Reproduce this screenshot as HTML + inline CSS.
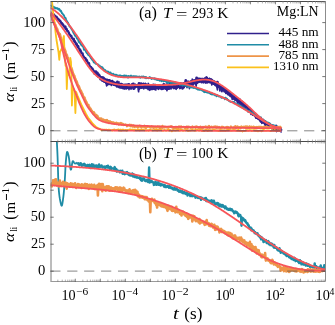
<!DOCTYPE html>
<html><head><meta charset="utf-8"><style>html,body{margin:0;padding:0;background:#fff;overflow:hidden}svg{display:block}</style></head>
<body><div style="will-change:transform;width:335px;height:325px"><svg width="335" height="325" viewBox="0 0 335 325" font-family='"Liberation Serif", serif' fill="#000">
<defs><clipPath id="cpT"><rect x="50.5" y="1.5" width="275.0" height="140.0"/></clipPath>
<clipPath id="cpB"><rect x="50.5" y="141.5" width="275.0" height="140.0"/></clipPath></defs>
<rect width="335" height="325" fill="#fff"/>
<path d="M51 16.13L51.4 13.8L51.8 15.27L52.2 14.76L52.6 14.8L53 14.9L53.4 13.96L53.8 14.86L54.2 14.72L54.6 17.24L55 16.03L55.4 16.12L55.8 16.54L56.2 16.72L56.6 16.91L57 17.63L57.4 18.47L57.8 18.49L58.2 19.5L58.6 19.28L59 19.79L59.4 20.98L59.8 20.85L60.2 20.75L60.6 21.45L61 22.36L61.4 23.63L61.8 23L62.2 23.55L62.6 24.74L63 24.28L63.4 25.13L63.8 26.3L64.2 26.68L64.6 26.96L65 27.82L65.4 26.48L65.8 29.11L66.2 28.59L66.6 28.76L67 30.37L67.4 31.16L67.8 31.09L68.2 31.31L68.6 32.48L69 33L69.4 34.37L69.8 34.58L70.2 34.87L70.6 35.99L71 35.87L71.4 36.09L71.8 37.54L72.2 38.15L72.6 38.33L73 38.64L73.4 39.82L73.8 38.92L74.2 41.33L74.6 41.85L75 41.28L75.4 42.86L75.8 42.91L76.2 44.51L76.6 43.56L77 44.82L77.4 46.38L77.8 47.26L78.2 46L78.6 47.58L79 48.68L79.4 48.77L79.8 50.67L80.2 49.71L80.6 51.25L81 51.1L81.4 53.17L81.8 52.99L82.2 53.44L82.6 53.31L83 55.93L83.4 56.03L83.8 56.68L84.2 57.54L84.6 57.72L85 57.77L85.4 58.3L85.8 58.92L86.2 60.82L86.6 59.76L87 60.88L87.4 61.65L87.8 62.57L88.2 63.37L88.6 62.87L89 63.16L89.4 64.76L89.8 66.06L90.2 66.36L90.6 66.63L91 66.87L91.4 67.83L91.8 68.04L92.2 69.3L92.6 68.76L93 69.92L93.4 70.27L93.8 71.25L94.2 71.52L94.6 73.73L95 73.44L95.4 73.88L95.8 71.58" fill="none" stroke="#30208c" stroke-width="2.3" stroke-linejoin="round" clip-path="url(#cpT)"/>
<path d="M95.4 73.88L95.8 71.58L96.2 73.29L96.6 73.46L97 74.75L97.4 72.82L97.8 76.03L98.2 76.3L98.6 74.61L99 75.2L99.4 75.67L99.8 76.72L100.2 77.56L100.6 79.15L101 77.37L101.4 78.55L101.8 78.24L102.2 80.05L102.6 79.33L103 80.2L103.4 78L103.8 79.12L104.2 78.7L104.6 81.32L105 80.66L105.4 79.85L105.8 79.89L106.2 81.1L106.6 80L107 79.92L107.4 81.68L107.8 84.12L108.2 81.22L108.6 81.03L109 80.47L109.4 80.43L109.8 82.8L110.2 83.34L110.6 82.47L111 83L111.4 82.88L111.8 83.03L112.2 81.16L112.6 82.57L113 83.38L113.4 82.42L113.8 82.9L114.2 82.61L114.6 83.3L115 84.83L115.4 83.42L115.8 83.82L116.2 85.08L116.6 84.97L117 86.33L117.4 81.87L117.8 85.5L118.2 83.97L118.6 84.8L119 85.72L119.4 86.09L119.8 86.11L120.2 85.12L120.6 86.94L121 84.73L121.4 84.97L121.8 86.16L122.2 84.6L122.6 87.91L123 86.6L123.4 88.04L123.8 85.45L124.2 85.08L124.6 85.78L125 86.51L125.4 84.96L125.8 86.15L126.2 85.7L126.6 87.69L127 84.98L127.4 87.05L127.8 85.05L128.2 84.69L128.6 85.01L129 84.45L129.4 86.08L129.8 87.15L130.2 86.13L130.6 86.69L131 87.92L131.4 86.29L131.8 86.21L132.2 85.66L132.6 84.07L133 86.92L133.4 83.91L133.8 86.81L134.2 86.01L134.6 87.39L135 85.96L135.4 85.05L135.8 86.48L136.2 85.38L136.6 85.84L137 86.11L137.4 85.9L137.8 85.83L138.2 85.06L138.6 85.84L139 83.5L139.4 85.88L139.8 84.63L140.2 87.41L140.6 87.59L141 83.72L141.4 86.24L141.8 85.91L142.2 84.81L142.6 86.7L143 85.51L143.4 83.94L143.8 85.74L144.2 85.89L144.6 86.19L145 84.59L145.4 86.81L145.8 86.96L146.2 84.7L146.6 85.29L147 85.99L147.4 85.42L147.8 88.2L148.2 86.36L148.6 84.91L149 85.19L149.4 86.08L149.8 88.91L150.2 85.95L150.6 86.33L151 86.81L151.4 86.16L151.8 88.95L152.2 85.59L152.6 87.14L153 86.45L153.4 87.02L153.8 84.88L154.2 88.43L154.6 86.17L155 86.38L155.4 85.23L155.8 85.49L156.2 87.06L156.6 87.58L157 87.32L157.4 87.88L157.8 87.3L158.2 86.49L158.6 87.47L159 87.2L159.4 86.38L159.8 87.38L160.2 88.06L160.6 86.81L161 86.1L161.4 87.39L161.8 88.81L162.2 86.28L162.6 86.42L163 86.37L163.4 88L163.8 84.32L164.2 86.97L164.6 87.95L165 85.54L165.4 88.3L165.8 87.15L166.2 85.84L166.6 86.74L167 84.65L167.4 85.8L167.8 88.66L168.2 85.38L168.6 88.66L169 86.33L169.4 87.61L169.8 86.45L170.2 83.69L170.6 85.68L171 86.57L171.4 84.94L171.8 84.68L172.2 86.71L172.6 85.47L173 84.19L173.4 85.37L173.8 87.19L174.2 85.56L174.6 87.22L175 87.89L175.4 86.06L175.8 84.63L176.2 84.38L176.6 85.87L177 86.91L177.4 86.13L177.8 86.42L178.2 85.18L178.6 86.02L179 85.04L179.4 85.15L179.8 83.94L180.2 83.53L180.6 84.75L181 83.91L181.4 83.99L181.8 85.86L182.2 84.83L182.6 88.35L183 85.87L183.4 83.89L183.8 85.48L184.2 84.87L184.6 83.51L185 85.54L185.4 83.18L185.8 80.32L186.2 84.83L186.6 83.02L187 85.43L187.4 82.75L187.8 81.99L188.2 85.15L188.6 81.88L189 83.3L189.4 84.67L189.8 82.95L190.2 82.6L190.6 82.7L191 83.46L191.4 81.37L191.8 82.96L192.2 82.8L192.6 84.79L193 81.47L193.4 80.67L193.8 82.53L194.2 81.06L194.6 81.78L195 81.48L195.4 82.62L195.8 80.33L196.2 80.91L196.6 77.86L197 79.75L197.4 82.57L197.8 79.82L198.2 79.71L198.6 79.01L199 81.08L199.4 80.52L199.8 78.81L200.2 80.96L200.6 80.41L201 80.95L201.4 79.23L201.8 82.01L202.2 80.38L202.6 79.72L203 79.21L203.4 79.5L203.8 80.77L204.2 79.43L204.6 80.98L205 80.39L205.4 81.27L205.8 80.65L206.2 79.64L206.6 77.53L207 80.09L207.4 80.74L207.8 80.11L208.2 80.66L208.6 79.6L209 79.82L209.4 79.31L209.8 82.04L210.2 80.82L210.6 80.23L211 79.45L211.4 80.92L211.8 82.86L212.2 81.94L212.6 80.81L213 83.37L213.4 83.56L213.8 83.26L214.2 83.25L214.6 83.86L215 83.41L215.4 83.92L215.8 82.49L216.2 85.22L216.6 84.13L217 86.33L217.4 82.26L217.8 85.48L218.2 86.07L218.6 84.96L219 86.11L219.4 86.73L219.8 86.86L220.2 86.01L220.6 86.75L221 88.29L221.4 88.88L221.8 87.99L222.2 88.31L222.6 88.78L223 89.99L223.4 88.19L223.8 88.27L224.2 90.11L224.6 89.22L225 90.12L225.4 91.08L225.8 91.75L226.2 90.48L226.6 92.64L227 90.35L227.4 92.96L227.8 91.14L228.2 91.74L228.6 93.93L229 93.19L229.4 93.11L229.8 93.76L230.2 94.95L230.6 94.74L231 95.07L231.4 96.42L231.8 95.02L232.2 95.57L232.6 95.83L233 97.75L233.4 97.88L233.8 98.47L234.2 97.52L234.6 97.72L235 98.97L235.4 98.11L235.8 99.56L236.2 99.76L236.6 98.75L237 99.63L237.4 99.9L237.8 101.9L238.2 102.98L238.6 100.83L239 101.24L239.4 99.47L239.8 102.03L240.2 102.14L240.6 101.49L241 103.47L241.4 101.67L241.8 103.2L242.2 103.83L242.6 102.9L243 105.1L243.4 105.59L243.8 103.74L244.2 104.04L244.6 106.15L245 105.92L245.4 105.21L245.8 106.37L246.2 106.88L246.6 107.19L247 108.4L247.4 108.36L247.8 109.94L248.2 109.95L248.6 109.7L249 110.42L249.4 111.01L249.8 110.84L250.2 109.52L250.6 111.73L251 111.42L251.4 113.15L251.8 112.2L252.2 112.95L252.6 113.13L253 114.66L253.4 113.71L253.8 113.68L254.2 114.54L254.6 114.24L255 115.12L255.4 115.33L255.8 115.92L256.2 117.69L256.6 116.04L257 116.76L257.4 116.91L257.8 118L258.2 116.75L258.6 117.5L259 118.4L259.4 119.22L259.8 119.05L260.2 118.98L260.6 118.99L261 120.47L261.4 121.57L261.8 120.92L262.2 121.1L262.6 121.61L263 120.73L263.4 121.55L263.8 121.86L264.2 122.61L264.6 122.6L265 121.87L265.4 124.12L265.8 124.88L266.2 123.52L266.6 124.34L267 124.5L267.4 125.19L267.8 123.56L268.2 126.38L268.6 124.89L269 126.56L269.4 125.81L269.8 125.64L270.2 126.07L270.6 127.14L271 125.89L271.4 126.49L271.8 126.59L272.2 125.77L272.6 128.42L273 128L273.4 127.67L273.8 128.8L274.2 127.22L274.6 128.09L275 129.69L275.4 129.21L275.8 126.73L276.2 125.95L276.6 127.92L277 129.72L277.4 128.57L277.8 128.87L278.2 129.61L278.6 128.48L279 129.43L279.4 129.95L279.8 129.73L280.2 129.72L280.6 128.95L281 129.86L281.4 129.13" fill="none" stroke="#30208c" stroke-width="2.8" stroke-linejoin="round" clip-path="url(#cpT)"/>
<path d="M100.2 77.07L100.6 77.47L101 78.1L101.4 79.86L101.8 78.81L102.2 81.18L102.6 79.13L103 79.17L103.4 79.32L103.8 81.39L104.2 82.27L104.6 80.67L105 80.55L105.4 80.21L105.8 83.34L106.2 83.66L106.6 85.86L107 81.6L107.4 84.9L107.8 81.61L108.2 81.92L108.6 83.86L109 84.39L109.4 84.45L109.8 82.66L110.2 82.58L110.6 84.48L111 84.3L111.4 85.46L111.8 84.18L112.2 83.05L112.6 83.91L113 84.14L113.4 85.14L113.8 84.04L114.2 84.63L114.6 84.69L115 84.51L115.4 85.46L115.8 84.43L116.2 84.89L116.6 84.38L117 85.91L117.4 86.04L117.8 86.46L118.2 84.56L118.6 87.49L119 86.81L119.4 84.9L119.8 87.91L120.2 85.91L120.6 87.87L121 85.77L121.4 86.17L121.8 85.45L122.2 88.3L122.6 85.86L123 86.64L123.4 85.53L123.8 85.95L124.2 87.14L124.6 89.04L125 85.76L125.4 88.79L125.8 86.61L126.2 86.75L126.6 88.92L127 86.61L127.4 86.99L127.8 88.15L128.2 87.69L128.6 86.34L129 89.72L129.4 86.3L129.8 87.9L130.2 87.09L130.6 86.37L131 89.24L131.4 86.21L131.8 87.33L132.2 86.61L132.6 87.15L133 88.48L133.4 89.28L133.8 88.49L134.2 88.13L134.6 88.99L135 86.43L135.4 86.09L135.8 87.09L136.2 86.45L136.6 87.02L137 86.43L137.4 86.36L137.8 86.15L138.2 89.62L138.6 91.81L139 87.58L139.4 89.21L139.8 86.55L140.2 87.44L140.6 86.57L141 86.77L141.4 86.2L141.8 88.3L142.2 87.46L142.6 87.83L143 87.42L143.4 86.56L143.8 88.85L144.2 87.44L144.6 87.88L145 87.85L145.4 87.54L145.8 88.11L146.2 86.94L146.6 87.89L147 86.19L147.4 88.28L147.8 88.15L148.2 89.64L148.6 86.56L149 89.29L149.4 87.22L149.8 90.32L150.2 86.36L150.6 89.19L151 89.05L151.4 86.45L151.8 88.21L152.2 87.49L152.6 89.37L153 86.58L153.4 88.33L153.8 89.14L154.2 87.58L154.6 89.51L155 89.23L155.4 87.44L155.8 90.06L156.2 86.59L156.6 86.48L157 87.9L157.4 87.48L157.8 87.4L158.2 89.19L158.6 89.34L159 86.55L159.4 88.14L159.8 87.93L160.2 87.31L160.6 88.37L161 87.93L161.4 88.91L161.8 88.38L162.2 86.55L162.6 87.6L163 89.29L163.4 87.56L163.8 86.79L164.2 86.97L164.6 88.13L165 86.71L165.4 87.03L165.8 89.21L166.2 87.57L166.6 89.04L167 90.71L167.4 86.67L167.8 88.74L168.2 86.79L168.6 88.14L169 87.36L169.4 89.03L169.8 87.84L170.2 86.57L170.6 87.68L171 88.99L171.4 86.67L171.8 87.5L172.2 87.82L172.6 87.36L173 87.39L173.4 87.32L173.8 88.59L174.2 86.18L174.6 87.55L175 88.02L175.4 88.03L175.8 88.79L176.2 89.43L176.6 87.53L177 87.08L177.4 88.07L177.8 86.04L178.2 87.22L178.6 87.11L179 87.49L179.4 85.63L179.8 88.66L180.2 85.83L180.6 88.3L181 87.32L181.4 86.99L181.8 87.42L182.2 87.79L182.6 85.86L183 86.29L183.4 85.57L183.8 86.54L184.2 87.59L184.6 84.42L185 86.32L185.4 84.52L185.8 85.77L186.2 85.27L186.6 84.84L187 87.67L187.4 85.29L187.8 83.49L188.2 84.29L188.6 84.38L189 85.87L189.4 88.67L189.8 83.99L190.2 84.67L190.6 86.03L191 82.83L191.4 84.12L191.8 84.34L192.2 83.18L192.6 83.47L193 82.88L193.4 81.82L193.8 81.94L194.2 81.85L194.6 81.78L195 83.95L195.4 84.62L195.8 84.16L196.2 86.1L196.6 81.3L197 83.35L197.4 82.01L197.8 81.4L198.2 81.1L198.6 80.82L199 82.16L199.4 81.66L199.8 82.02L200.2 80.25L200.6 81.64L201 81.5L201.4 80.49L201.8 80.33L202.2 80.05L202.6 81.8L203 82.11L203.4 82.88L203.8 80.37L204.2 80.06L204.6 80.98L205 82.27L205.4 83.1L205.8 79.98L206.2 80.8L206.6 80.98L207 83.12L207.4 81.67L207.8 81.33L208.2 82.44L208.6 80.93L209 81.14L209.4 81.16L209.8 81.58L210.2 81.48L210.6 82.03L211 80.98L211.4 82.65L211.8 85L212.2 81.67L212.6 82.47L213 82.9L213.4 83.32L213.8 84.02L214.2 82.94L214.6 84.24L215 85.31L215.4 83.6L215.8 84.03L216.2 83.73L216.6 84.83L217 87.54L217.4 89.9L217.8 86.1L218.2 85.72L218.6 86.84L219 87.17L219.4 86.45L219.8 91.05L220.2 88.3L220.6 88.26L221 88.67L221.4 89.22L221.8 91.71L222.2 90.33L222.6 89.49L223 90.32L223.4 89.42L223.8 89.73L224.2 91.75L224.6 90.74L225 91.18L225.4 91.93L225.8 93.36L226.2 91.64L226.6 92.53L227 92.81L227.4 93.38L227.8 94.65L228.2 94.84L228.6 93.86L229 93.82L229.4 94.94L229.8 95.89L230.2 95.52L230.6 95.53L231 95.22L231.4 96.04L231.8 96.85L232.2 99.37L232.6 96.73L233 97.99L233.4 98.29L233.8 97.68L234.2 98.33L234.6 97.96L235 100.23L235.4 100.2L235.8 99.36L236.2 99.76L236.6 99.78L237 99.87L237.4 100.9L237.8 100.46L238.2 101.08L238.6 102.52L239 103.63L239.4 103.97L239.8 102.45L240.2 104.08L240.6 104.18L241 104.18L241.4 105.29L241.8 104.55L242.2 104.39L242.6 105.95L243 105.87L243.4 104.92L243.8 106.88L244.2 105.8L244.6 106.91L245 106.43L245.4 107.62L245.8 106.94L246.2 107.91L246.6 108.52L247 109.06L247.4 110.17L247.8 109.37L248.2 110.38L248.6 111.16L249 111.03L249.4 111.94L249.8 111.18L250.2 111.35L250.6 110.99L251 114.35L251.4 111.74L251.8 112.52L252.2 113.8L252.6 113.03L253 114.87L253.4 113.64L253.8 115.39L254.2 115.69L254.6 115.21L255 115.52L255.4 115.83L255.8 117.41L256.2 116.67L256.6 117.33L257 117.72L257.4 118.06L257.8 118.02L258.2 119.22L258.6 118.22L259 118.59L259.4 120.03L259.8 120.13L260.2 121.49L260.6 121.49L261 121.86L261.4 120.89L261.8 123.45L262.2 122.75L262.6 121.29L263 122.83L263.4 122.46L263.8 122.22L264.2 123.04L264.6 124.17L265 123.75L265.4 125.83L265.8 124.5L266.2 125.52L266.6 125.35L267 125.16L267.4 124.59L267.8 126.31L268.2 126.17L268.6 126.32L269 126.84L269.4 127.39L269.8 127.27L270.2 127.41L270.6 126.94L271 128.16L271.4 127.1L271.8 127.68L272.2 127.32L272.6 129.32L273 128.18L273.4 129.6L273.8 128.07L274.2 129.34L274.6 128.33L275 128.74L275.4 128.63L275.8 130.35L276.2 130.06L276.6 131.56L277 130.12L277.4 130.81L277.8 130.93L278.2 129.52L278.6 129.92L279 129.45L279.4 130.94L279.8 130.06L280.2 130.07L280.6 130.13L281 131.93L281.4 131.4" fill="none" stroke="#30208c" stroke-width="1.6" stroke-linejoin="round" clip-path="url(#cpT)"/>
<path d="M100.2 76.15L100.6 76.73L101 77.38L101.4 77.67L101.8 77.33L102.2 77.62L102.6 76.76L103 77.3L103.4 77.41L103.8 78.36L104.2 78.43L104.6 78.31L105 79.18L105.4 79.47L105.8 80.08L106.2 79.37L106.6 80.08L107 80.01L107.4 80.73L107.8 79.89L108.2 80.85L108.6 79.92L109 81.13L109.4 81.87L109.8 79.82L110.2 81.2L110.6 81.4L111 81.11L111.4 82.41L111.8 82.25L112.2 82.36L112.6 81.99L113 83.22L113.4 82.64L113.8 82.23L114.2 82.57L114.6 82.74L115 82.52L115.4 83.02L115.8 83.83L116.2 82.32L116.6 83.2L117 83.39L117.4 84.07L117.8 82.72L118.2 84.51L118.6 84.13L119 81.59L119.4 84.79L119.8 84.78L120.2 83.77L120.6 84.26L121 83.25L121.4 85.01L121.8 83.82L122.2 84.18L122.6 85.27L123 84.42L123.4 84.58L123.8 84.59L124.2 84.98L124.6 85.12L125 84.97L125.4 84.9L125.8 85.21L126.2 85.55L126.6 85.12L127 84.25L127.4 85.57L127.8 85.19L128.2 84.57L128.6 85.84L129 85.68L129.4 85.72L129.8 85.05L130.2 85.69L130.6 85.45L131 85.61L131.4 84.72L131.8 85.59L132.2 83.46L132.6 85.04L133 85.37L133.4 85.73L133.8 84.7L134.2 85.92L134.6 85.51L135 84.87L135.4 84.4L135.8 85.05L136.2 85.84L136.6 85.11L137 85.5L137.4 85.69L137.8 85.69L138.2 85.2L138.6 85.82L139 86.04L139.4 85.84L139.8 84.9L140.2 85.43L140.6 85.61L141 84.55L141.4 86.01L141.8 84.39L142.2 86.03L142.6 84.73L143 85.33L143.4 84.88L143.8 85.6L144.2 84.8L144.6 85.67L145 85.94L145.4 83.14L145.8 85.81L146.2 85.79L146.6 85.17L147 85.95L147.4 85.97L147.8 85.67L148.2 83.22L148.6 84.45L149 84.83L149.4 84.83L149.8 85.53L150.2 86.16L150.6 84.66L151 85.96L151.4 84.82L151.8 85.36L152.2 84.41L152.6 85.23L153 85.81L153.4 86.15L153.8 85.94L154.2 85.22L154.6 86.25L155 85.52L155.4 85.99L155.8 84.41L156.2 86.36L156.6 86.04L157 86.27L157.4 86.15L157.8 85.95L158.2 86.42L158.6 86.26L159 85.53L159.4 85.46L159.8 86.05L160.2 85.65L160.6 85.44L161 86.48L161.4 85.52L161.8 85.8L162.2 85.82L162.6 84.71L163 85.59L163.4 85.86L163.8 84.56L164.2 85.16L164.6 84.97L165 85.6L165.4 84.34L165.8 85.61L166.2 85.18L166.6 85.26L167 84.19L167.4 86.17L167.8 85.32L168.2 85.95L168.6 85.93L169 85.99L169.4 84.7L169.8 85.78L170.2 85.14L170.6 84.49L171 85.94L171.4 84.94L171.8 85.89L172.2 86.05L172.6 84.89L173 86.02L173.4 84.81L173.8 85.57L174.2 85.43L174.6 85.06L175 85.24L175.4 84.69L175.8 85.83L176.2 84.52L176.6 85.38L177 85.85L177.4 84.47L177.8 85.23L178.2 85.42L178.6 83.38L179 83.54L179.4 85.14L179.8 84.42L180.2 83.44L180.6 85.28L181 84L181.4 84.56L181.8 83.14L182.2 83.82L182.6 83.93L183 84.23L183.4 82.89L183.8 83.91L184.2 83.96L184.6 83.69L185 84.13L185.4 82.94L185.8 83.92L186.2 81.51L186.6 83.65L187 83.11L187.4 82.75L187.8 83.25L188.2 83.25L188.6 82.96L189 81.97L189.4 82.31L189.8 81.82L190.2 81.36L190.6 82.25L191 81.67L191.4 80.95L191.8 81.28L192.2 78.96L192.6 81.56L193 80.92L193.4 80.75L193.8 81.06L194.2 79.65L194.6 80.51L195 81.07L195.4 81.05L195.8 81.1L196.2 80.03L196.6 79.68L197 80.8L197.4 79.03L197.8 79.85L198.2 80.32L198.6 78.38L199 80.24L199.4 79L199.8 79.75L200.2 79.88L200.6 80.01L201 79.81L201.4 79.63L201.8 79.89L202.2 79.08L202.6 78.41L203 79.66L203.4 79L203.8 78.67L204.2 78.53L204.6 77.94L205 77.81L205.4 78.15L205.8 79.61L206.2 79.27L206.6 78.69L207 78.2L207.4 79.43L207.8 78.28L208.2 78.96L208.6 79.41L209 79.89L209.4 78.17L209.8 78.35L210.2 80.37L210.6 79.56L211 79.82L211.4 80.48L211.8 80.81L212.2 79.86L212.6 81.01L213 81.17L213.4 81.84L213.8 80.84L214.2 82.28L214.6 80.94L215 82.75L215.4 82.5L215.8 82.42L216.2 82.84L216.6 82.53L217 82.52L217.4 82.71L217.8 83.31L218.2 84.56L218.6 84.73L219 84.83L219.4 85.01L219.8 85.45L220.2 85.51L220.6 85.35L221 86.58L221.4 86.69L221.8 86.61L222.2 87.92L222.6 87.57L223 87.28L223.4 89.2L223.8 89.53L224.2 89.59L224.6 89.84L225 89.73L225.4 90.87L225.8 90.68L226.2 91.3L226.6 90.65L227 91.88L227.4 91.89L227.8 91.46L228.2 91.95L228.6 93.1L229 92.93L229.4 92.11L229.8 94.19L230.2 93.11L230.6 93.18L231 92.65L231.4 94.68L231.8 95.38L232.2 95.03L232.6 96.14L233 96.59L233.4 96.46L233.8 97.22L234.2 96.06L234.6 96.96L235 97.34L235.4 97.64L235.8 97.28L236.2 98.9L236.6 98.67L237 99.66L237.4 99.26L237.8 99.72L238.2 100.22L238.6 100.1L239 99.2L239.4 100.87L239.8 100.55L240.2 102.13L240.6 102.36L241 101.35L241.4 102.55L241.8 102.11L242.2 103.06L242.6 102.11L243 102.2L243.4 103.92L243.8 103.3L244.2 104.89L244.6 105.18L245 105.86L245.4 105.63L245.8 105.66L246.2 106.35L246.6 106.66L247 107.4L247.4 107.19L247.8 107.71L248.2 108.4L248.6 108.61L249 107.95L249.4 109.47L249.8 110.07L250.2 110.26L250.6 109.7L251 111.22L251.4 111.59L251.8 110.13L252.2 111.98L252.6 112.83L253 112.58L253.4 113.2L253.8 113.03L254.2 113.82L254.6 112.9L255 114.3L255.4 114.51L255.8 115.01L256.2 115.46L256.6 116.19L257 114.75L257.4 117.04L257.8 116.77L258.2 117.59L258.6 117.82L259 116.37L259.4 117.14L259.8 117.75L260.2 118.12L260.6 119.37L261 120.03L261.4 119.81L261.8 119.82L262.2 119.43L262.6 120.38L263 120.93L263.4 119.5L263.8 120.8L264.2 122.3L264.6 121.25L265 122.06L265.4 122.88L265.8 123.39L266.2 123.56L266.6 122.26L267 122.37L267.4 123.37L267.8 124.46L268.2 124.28L268.6 124.15L269 125.04L269.4 125.26L269.8 125.56L270.2 125.45L270.6 126.18L271 125.27L271.4 125.99L271.8 126.91L272.2 126.48L272.6 126.24L273 127.42L273.4 126.31L273.8 127.36L274.2 126.86L274.6 127.42L275 127.89L275.4 128.19L275.8 128.38L276.2 126.7L276.6 127.47L277 128.64L277.4 128.07L277.8 128.54L278.2 128.87L278.6 128.39L279 128.92L279.4 128.93L279.8 128.93L280.2 128.8L280.6 129.07L281 129.17L281.4 129.35" fill="none" stroke="#30208c" stroke-width="1.4" stroke-linejoin="round" clip-path="url(#cpT)"/>
<path d="M50.5 6.25L51 5.87L51.5 5.5L52 6.35L52.5 6.46L53 6.58L53.5 6.91L54 8.07L54.5 7.34L55 7.68L55.5 7.6L56 8.55L56.5 8.19L57 8.12L57.5 8.16L58 9.19L58.5 9.54L59 8.75L59.5 9.41L60 10.3L60.5 11.2L61 10.87L61.5 12.02L62 13.32L62.5 13.47L63 14.27L63.5 15.01L64 15.45L64.5 16.85L65 17.77L65.5 17.87L66 19.41L66.5 20.75L67 21.24L67.5 22.47L68 22.71L68.5 24.49L69 24.45L69.5 26.59L70 26.48L70.5 27.17L71 27.92L71.5 28.97L72 29.77L72.5 30.53L73 31.54L73.5 32.85L74 33.81L74.5 34.13L75 35.72L75.5 35.59L76 36.47L76.5 37.14L77 38.64L77.5 38.4L78 39.2L78.5 41.14L79 42.07L79.5 42.65L80 42.11L80.5 43.53L81 44.65L81.5 45.06L82 45.04L82.5 46.36L83 46.49L83.5 47.45L84 49.71L84.5 49.79L85 49.57L85.5 50.29L86 51.91L86.5 52.16L87 53.42L87.5 53.59L88 54.51L88.5 55.33L89 55.37L89.5 55.58L90 56.51L90.5 57.33L91 58.14L91.5 58.79L92 59.36L92.5 60.19L93 60.11L93.5 61.69L94 62.51L94.5 62.3L95 62.74L95.5 63.64L96 63.78L96.5 63.97L97 64.19L97.5 64.31L98 64.48L98.5 65.65L99 66.22L99.5 65.53L100 66.28L100.5 66.71L101 66.7L101.5 67.01L102 67.62L102.5 67.34L103 68.62L103.5 68.91L104 70.39L104.5 70.23L105 70.02L105.5 70.51L106 71.62L106.5 71.9L107 71.57L107.5 71.72L108 71.41L108.5 72.19L109 72.52L109.5 72.52L110 73.86L110.5 72.47L111 73.47L111.5 73.92L112 74.13L112.5 74.88L113 73.67L113.5 74.13L114 74.67L114.5 74.83L115 74.74L115.5 74.7L116 75.66L116.5 74.82L117 75.14L117.5 76.15L118 76.38L118.5 76.08L119 75.38L119.5 75.46L120 75.51L120.5 75.46L121 75.84L121.5 76.66L122 76.23L122.5 75.83L123 75.86L123.5 75.72L124 76.82L124.5 75.39L125 76.44L125.5 75.69L126 75.88L126.5 75.7L127 76.81L127.5 76.35L128 77.63L128.5 75.93L129 75.91L129.5 76.66L130 76.65L130.5 76.27L131 75.49L131.5 77.05L132 76.65L132.5 76.57L133 76.12L133.5 76.68L134 76.14L134.5 76.41L135 76.31L135.5 77L136 76.26L136.5 76.36L137 77.05L137.5 76.7L138 76.63L138.5 76.58L139 77.17L139.5 76.5L140 77.05L140.5 77.81L141 77.13L141.5 76.66L142 76.53L142.5 77.19L143 76.64L143.5 76.54L144 76.98L144.5 76.89L145 77.85L145.5 76.87L146 78.3L146.5 77.33L147 77.79L147.5 78.12L148 77.99L148.5 78.3L149 77.61L149.5 77.11L150 78.12L150.5 77.54L151 78.12L151.5 78.9L152 78.47L152.5 78.38L153 78.23L153.5 78.7L154 78.85L154.5 78.31L155 79.25L155.5 78.74L156 79.42L156.5 79.22L157 79.97L157.5 80.01L158 79.74L158.5 79.79L159 80.15L159.5 80.68L160 80.65L160.5 80.33L161 80.49L161.5 81.14L162 79.78L162.5 80.85L163 80.29L163.5 81.4L164 80.66L164.5 80.93L165 80.59L165.5 81.18L166 81.63L166.5 82.13L167 80.9L167.5 81.38L168 83.44L168.5 82.21L169 81.88L169.5 82.23L170 80.9L170.5 82.92L171 82.36L171.5 81.74L172 83.01L172.5 82.3L173 82.22L173.5 83.02L174 83.07L174.5 82.79L175 83.07L175.5 82.6L176 82.66L176.5 83.82L177 84.12L177.5 83.83L178 83.91L178.5 83.68L179 83.91L179.5 83.66L180 84.98L180.5 84.05L181 84.61L181.5 84.54L182 84.03L182.5 85.65L183 84.73L183.5 84.67L184 85.19L184.5 84.86L185 85.4L185.5 85.08L186 85.89L186.5 85.79L187 85.28L187.5 86.49L188 86.24L188.5 85.79L189 86.58L189.5 86.75L190 87.53L190.5 86.44L191 87.35L191.5 87.07L192 87.53L192.5 87.27L193 87.51L193.5 87.9L194 87.29L194.5 87.02L195 88.12L195.5 88.07L196 88.46L196.5 88.86L197 88.63L197.5 89.42L198 89.02L198.5 89.25L199 89.73L199.5 89.78L200 89.64L200.5 89.9L201 89.66L201.5 89.89L202 90.38L202.5 90.87L203 90.48L203.5 91.22L204 91.89L204.5 92.16L205 91.38L205.5 92.02L206 91.99L206.5 92.25L207 92.46L207.5 92.5L208 92.82L208.5 92.72L209 92.7L209.5 93.12L210 93.42L210.5 93.91L211 93.68L211.5 94.02L212 94.49L212.5 93.59L213 94.06L213.5 94.59L214 94.53L214.5 94.23L215 95.31L215.5 95.01L216 94.76L216.5 96.25L217 94.99L217.5 95.75L218 95.63L218.5 96.17L219 96.56L219.5 96.12L220 96.64L220.5 96.81L221 96.61L221.5 97.79L222 97.53L222.5 97.52L223 97.55L223.5 97.9L224 98.32L224.5 98.25L225 99.23L225.5 97.74L226 98.15L226.5 99.22L227 98.73L227.5 99.76L228 99.72L228.5 100.52L229 100.67L229.5 101.31L230 101.38L230.5 101.76L231 101.68L231.5 102.16L232 102.15L232.5 101.91L233 101.86L233.5 102.13L234 103.14L234.5 102.1L235 103.51L235.5 103.35L236 104.28L236.5 104.29L237 104.13L237.5 104.73L238 103.96L238.5 105.38L239 105.73L239.5 104.96L240 106.44L240.5 106.27L241 106.67L241.5 106.23L242 107.42L242.5 107.68L243 107.69L243.5 107.53L244 108.59L244.5 109.09L245 108.99L245.5 109.54L246 109.1L246.5 109.72L247 110.1L247.5 110.28L248 111.77L248.5 110.98L249 110.82L249.5 111.74L250 111.16L250.5 112.13L251 112.61L251.5 112.36L252 112.74L252.5 112.77L253 113.57L253.5 113.51L254 114.91L254.5 114.73L255 114.65L255.5 114.42L256 116.29L256.5 116.27L257 116.21L257.5 116.4L258 116.7L258.5 116.72L259 118.09L259.5 117.65L260 117.22L260.5 117.88L261 117.33L261.5 119.1L262 119.45L262.5 120.22L263 120.67L263.5 119.68L264 120.54L264.5 121.09L265 121.3L265.5 121.01L266 121.9L266.5 122.05L267 122.73L267.5 122.39L268 122.58L268.5 122.74L269 123.07L269.5 123.17L270 123.63L270.5 124.29L271 124.55L271.5 125.21L272 125.38L272.5 125.43L273 124.89L273.5 125.91L274 126.43L274.5 125.55L275 125.87L275.5 126.17L276 126.34L276.5 126.89L277 126.8L277.5 127.59L278 127.05L278.5 127.72L279 127.72L279.5 127.66L280 128.71L280.5 128.4L281 128.76L281.5 128.47" fill="none" stroke="#1f8ca6" stroke-width="1.9" stroke-linejoin="round" clip-path="url(#cpT)"/>
<path d="M50.5 13.88L51 15.25L51.5 16.23L52 16.69L52.5 19.19L53 20.28L53.5 21.14L54 22.27L54.5 23.29L55 24.41L55.5 24.91L56 26.5L56.5 27.8L57 28.43L57.5 29.35L58 31.87L58.5 32.36L59 33.05L59.5 34.12L60 34.24L60.5 36.21L61 38.19L61.5 40.37L62 40.13L62.5 42.26L63 45.03L63.5 45.87L64 47.2L64.5 49.04L65 49.83L65.5 51.22L66 53.1L66.5 54.6L67 55.08L67.5 57.82L68 57.63L68.5 59.59L69 62.91L69.5 62.55L70 64.55L70.5 65.12L71 66.84L71.5 68.01L72 69.51L72.5 71.36L73 73.2L73.5 74.05L74 75.66L74.5 75.88L75 78.11L75.5 78.91L76 80.54L76.5 80.86L77 82.14L77.5 84.11L78 84.86L78.5 85.72L79 86.41L79.5 87.78L80 89.13L80.5 90.3L81 90.71L81.5 91.88L82 93.33L82.5 93.65L83 95.78L83.5 96.41L84 97.45L84.5 97.39L85 98.86L85.5 100.17L86 101.38L86.5 102.05L87 103.66L87.5 104.37L88 104.97L88.5 104.86L89 107.32L89.5 107.21L90 108.37L90.5 108.43L91 109.45L91.5 110.48L92 110.91L92.5 111.92L93 111.98L93.5 113.67L94 112.31L94.5 113.53L95 114.83L95.5 114.74L96 115.17L96.5 115.02L97 117L97.5 115.92L98 117.57L98.5 117.82L99 118.52L99.5 119.12L100 118.31L100.5 118.51L101 118.99L101.5 118.51L102 119.98L102.5 119.57L103 120.03L103.5 119.55L104 120.29L104.5 120.13L105 120.55L105.5 120.2L106 121.42L106.5 120.73L107 119.93L107.5 121.67L108 121.33L108.5 121.17L109 123L109.5 121.84L110 121.32L110.5 121.81L111 122.42L111.5 122.24L112 123.09L112.5 123.12L113 122.31L113.5 122.84L114 123.25L114.5 122.83L115 122.91L115.5 123.69L116 123.57L116.5 122.74L117 123.25L117.5 123.4L118 123.63L118.5 123.42L119 124.52L119.5 123.45L120 123.47L120.5 124.19L121 123.03L121.5 123.72L122 124.62L122.5 123.71L123 124.02L123.5 125.06L124 124.81L124.5 124.68L125 124.84L125.5 124.45L126 125.02L126.5 124.84L127 126.26L127.5 125.36L128 124.99L128.5 125.2L129 125.33L129.5 124.68L130 125.03L130.5 126.27L131 124.87L131.5 125.35L132 126.22L132.5 126.53L133 125.33L133.5 126.64L134 125.79L134.5 126.86L135 126.35L135.5 126.02L136 126.58L136.5 126.56L137 125.96L137.5 127.48L138 126.29L138.5 127.1L139 126.35L139.5 125.74L140 126.15L140.5 126.67L141 127.07L141.5 127.62L142 126.79L142.5 126.62L143 126.16L143.5 126.76L144 126.95L144.5 125.7L145 127.47L145.5 127.4L146 127.99L146.5 126.41L147 126.9L147.5 126.9L148 126.24L148.5 126.49L149 126.44L149.5 127.21L150 127.18L150.5 127.65L151 126.79L151.5 126.31L152 127.24L152.5 127.22L153 127.39L153.5 127.69L154 126.79L154.5 127.49L155 126.6L155.5 127.2L156 127.48L156.5 127.09L157 127.26L157.5 126.47L158 126.85L158.5 127.26L159 126.59L159.5 126.77L160 128.42L160.5 127.34L161 126.8L161.5 126.7L162 127.91L162.5 125.82L163 127.04L163.5 127.52L164 126.93L164.5 127.47L165 126.69L165.5 127.21L166 127.24L166.5 127.23L167 127.3L167.5 127.24L168 127.79L168.5 127.1L169 126.94L169.5 127.09L170 127.08L170.5 126.48L171 126.28L171.5 126.56L172 127.39L172.5 126.91L173 127.04L173.5 128.68L174 127.81L174.5 127.15L175 126.94L175.5 127.94L176 126.87L176.5 127.88L177 127.55L177.5 127.95L178 126.9L178.5 127.71L179 126.36L179.5 127.18L180 127.8L180.5 127.61L181 126.35L181.5 127.61L182 127.49L182.5 127.23L183 126.9L183.5 127.13L184 126.98L184.5 127.74L185 127.5L185.5 127.8L186 127.61L186.5 126.63L187 127.34L187.5 128.34L188 126.71L188.5 127.41L189 126.88L189.5 126.82L190 127.37L190.5 127.73L191 127.65L191.5 127.5L192 127.75L192.5 126.45L193 127.68L193.5 127.47L194 127.18L194.5 127.27L195 126.84L195.5 127.85L196 126.89L196.5 126.53L197 127.27L197.5 126.98L198 127.24L198.5 128.03L199 127.21L199.5 127.34L200 128.41L200.5 126.58L201 127.46L201.5 127.87L202 128.04L202.5 128.41L203 126.96L203.5 127.59L204 127.24L204.5 127.06L205 126.93L205.5 126.56L206 127.46L206.5 127.67L207 126.76L207.5 127.68L208 127.02L208.5 126.79L209 125.98L209.5 127.85L210 127.66L210.5 127.15L211 127.11L211.5 126.65L212 127.57L212.5 127.27L213 127.58L213.5 127.4L214 126.6L214.5 126.53L215 127.52L215.5 126.46L216 127.45L216.5 127.77L217 126.67L217.5 127.66L218 127.35L218.5 127.6L219 127.01L219.5 127.32L220 127.55L220.5 128.26L221 127.71L221.5 127.59L222 126.69L222.5 127.51L223 127L223.5 127.31L224 127.49L224.5 127.84L225 127.65L225.5 127.45L226 127.33L226.5 128.04L227 126.91L227.5 127.38L228 128.05L228.5 127.26L229 127.78L229.5 127.81L230 128.36L230.5 127.93L231 126.53L231.5 127.36L232 127.51L232.5 127.78L233 127.55L233.5 128.31L234 127.91L234.5 126.76L235 127.03L235.5 126.31L236 128.22L236.5 127.28L237 127.27L237.5 126.54L238 127.11L238.5 127.55L239 127.12L239.5 127.12L240 127L240.5 128.31L241 127.03L241.5 126.57L242 127.04L242.5 127.12L243 127.25L243.5 127.17L244 126.72L244.5 127.19L245 127.48L245.5 126.57L246 128.28L246.5 128.14L247 126.36L247.5 127.09L248 127.79L248.5 127.96L249 128.18L249.5 126.34L250 126.71L250.5 127.01L251 127.55L251.5 126.73L252 127.49L252.5 127.5L253 127.64L253.5 126.62L254 127.38L254.5 127.31L255 127.07L255.5 127.94L256 127.13L256.5 128.02L257 126.98L257.5 128.15L258 128.12L258.5 126.87L259 127.46L259.5 127.45L260 126.79L260.5 127.69L261 127.59L261.5 126.85L262 127.34L262.5 127.75L263 127.21L263.5 126.93L264 128.13L264.5 126.8L265 127.47L265.5 127.87L266 127.7L266.5 126.37L267 127.13L267.5 127.23L268 127.19L268.5 127.62L269 127.58L269.5 127.37L270 127.44L270.5 127.82L271 127.94L271.5 126.34L272 128.41L272.5 127.02L273 127.7L273.5 126.48L274 127.04L274.5 126.67L275 127.85L275.5 127.75L276 127.3L276.5 127.21L277 127.5L277.5 126.82L278 126.99L278.5 126.91L279 127.71L279.5 127.3L280 126.64L280.5 127.46L281 127.55L281.5 128" fill="none" stroke="#ee9448" stroke-width="2.3" stroke-linejoin="round" clip-path="url(#cpT)"/>
<path d="M51.6 -3L53.3 14L54.5 22L55.5 32L56.5 40L57.5 46L58.5 52L59.3 59.8L60 52L61.5 49L62.5 50L63.3 38L63.9 36L64.5 52L65.2 62L65.6 66L66.2 64L66.8 89L67.5 72L68.5 75L69.2 74L70.3 58L71 62L71.5 80L71.9 105.5L72.6 87L73.5 89L74.5 91L75.4 113L76.2 92L77.5 95.5L79 99L80.5 102.5L82 106L84 110L86 114L88 117.5L90 120L93 124L96 127L100 129L100.5 129.17L101.2 129.63L101.9 130.32L102.6 129.56L103.3 129.62L104 129.99L104.7 129.68L105.4 129.9L106.1 129.75L106.8 129.68L107.5 130.29L108.2 129.87L108.9 129.66L109.6 129.93L110.3 130L111 130.17L111.7 130.4L112.4 130.7L113.1 129.63L113.8 129.97L114.5 129.4L115.2 130.11L115.9 130.2L116.6 129.77L117.3 129.66L118 129.62L118.7 129.42L119.4 130.16L120.1 130.6L120.8 129.52L121.5 130.51L122.2 129.89L122.9 129.44L123.6 130.14L124.3 130.22L125 130.09L125.7 129.86L126.4 130.55L127.1 129.86L127.8 130.19L128.5 130.2L129.2 129.65L129.9 129.32L130.6 129.36L131.3 129.84L132 130.11L132.7 129.36L133.4 129.73L134.1 130.54L134.8 129.36L135.5 130.16L136.2 130.13L136.9 130.28L137.6 129.48L138.3 130.13L139 129.52L139.7 130.49L140.4 129.71L141.1 130.16L141.8 129.74L142.5 130.08L143.2 129.49L143.9 130.13L144.6 130.25L145.3 130.04L146 130.62L146.7 130.18L147.4 130.33L148.1 130.23L148.8 130.72L149.5 129.83L150.2 129.97L150.9 129.99L151.6 130.29L152.3 130.17L153 130.38L153.7 130.19L154.4 129.9L155.1 130.07L155.8 130.25L156.5 129.29L157.2 130.6L157.9 129.9L158.6 129.98L159.3 130.21L160 130.03L160.7 129.61L161.4 130.04L162.1 130.62L162.8 130.51L163.5 130.58L164.2 129.95L164.9 130.07L165.6 130.53L166.3 130.68L167 130.17L167.7 129.82L168.4 129.48L169.1 130.68L169.8 129.63L170.5 130.33L171.2 130.5L171.9 131.35L172.6 130.26L173.3 130.16L174 130.37L174.7 130.39L175.4 130.69L176.1 130.46L176.8 129.94L177.5 129.46L178.2 130.33L178.9 129.98L179.6 130.74L180.3 129.76L181 130.31L181.7 129.98L182.4 129.93L183.1 130.85L183.8 130.31L184.5 130.19L185.2 130.53L185.9 129.98L186.6 130.13L187.3 130.04L188 130.99L188.7 130.39L189.4 130.5L190.1 130.68L190.8 130.22L191.5 130.23L192.2 129.7L192.9 130.47L193.6 130.39L194.3 130.15L195 130.74L195.7 129.66L196.4 130.46L197.1 129.81L197.8 129.9L198.5 130.24L199.2 130.8L199.9 129.89L200.6 129.96L201.3 129.89L202 131.06L202.7 130.52L203.4 130.48L204.1 131.09L204.8 130.43L205.5 129.58L206.2 130.16L206.9 129.92L207.6 131.09L208.3 129.84L209 130.47L209.7 130.17L210.4 130.2L211.1 130.37L211.8 130.32L212.5 130.12L213.2 129.93L213.9 130.14L214.6 130L215.3 130.05L216 130.43L216.7 130.33L217.4 130.56L218.1 130.31L218.8 131.09L219.5 130.13L220.2 130.04L220.9 130.78L221.6 130.15L222.3 130.45L223 130.77L223.7 130.38L224.4 130.29L225.1 130.77L225.8 130.54L226.5 130.23L227.2 129.99L227.9 130.29L228.6 129.83L229.3 130.12L230 130.04L230.7 130.55L231.4 130.72L232.1 130.21L232.8 130.28L233.5 130.05L234.2 129.95L234.9 130.29L235.6 130.66L236.3 130.63L237 130.67L237.7 130.36L238.4 129.47L239.1 130.8L239.8 130.95L240.5 130.8L241.2 130.8L241.9 130.88L242.6 131.46L243.3 130.6L244 131.05L244.7 130.78L245.4 130.74L246.1 130.45L246.8 130.37L247.5 130.09L248.2 130.72L248.9 130.39L249.6 130.07L250.3 130.23L251 130.08L251.7 131.1L252.4 130.43L253.1 130.56L253.8 130.08L254.5 130.15L255.2 130.91L255.9 130.44L256.6 130.61L257.3 131.2L258 131.29L258.7 130.79L259.4 130.72L260.1 130.63L260.8 130.44L261.5 131.28L262.2 130.11L262.9 130.52L263.6 129.85L264.3 130.09L265 130.7L265.7 130.72L266.4 130.68L267.1 130.44L267.8 130.31L268.5 130.37L269.2 130.43L269.9 130.97L270.6 131.1L271.3 130.74L272 130.38L272.7 130.24L273.4 130.69L274.1 130.5L274.8 129.92L275.5 131.08L276.2 130.58L276.9 130.47L277.6 130.27L278.3 130.28L279 130.92L279.7 130.25L280.4 130.63L281.1 130.83" fill="none" stroke="#fbc11c" stroke-width="1.8" stroke-linejoin="round" clip-path="url(#cpT)"/>
<path d="M50.3 11.55L50.8 12.21L51.3 12.87L51.8 13.54L52.3 14.2L52.8 14.87L53.3 15.53L53.8 16.2L54.3 16.87L54.8 17.53L55.3 18.2L55.8 18.87L56.3 19.54L56.8 20.22L57.3 20.89L57.8 21.57L58.3 22.24L58.8 22.92L59.3 23.6L59.8 24.28L60.3 24.97L60.8 25.65L61.3 26.34L61.8 27.03L62.3 27.72L62.8 28.42L63.3 29.12L63.8 29.82L64.3 30.52L64.8 31.23L65.3 31.93L65.8 32.65L66.3 33.36L66.8 34.08L67.3 34.8L67.8 35.53L68.3 36.26L68.8 36.99L69.3 37.72L69.8 38.46L70.3 39.21L70.8 39.95L71.3 40.71L71.8 41.46L72.3 42.22L72.8 42.98L73.3 43.74L73.8 44.5L74.3 45.27L74.8 46.04L75.3 46.81L75.8 47.58L76.3 48.35L76.8 49.12L77.3 49.9L77.8 50.67L78.3 51.44L78.8 52.22L79.3 52.99L79.8 53.76L80.3 54.53L80.8 55.3L81.3 56.06L81.8 56.83L82.3 57.59L82.8 58.35L83.3 59.1L83.8 59.86L84.3 60.6L84.8 61.35L85.3 62.08L85.8 62.81L86.3 63.54L86.8 64.25L87.3 64.96L87.8 65.66L88.3 66.35L88.8 67.03L89.3 67.69L89.8 68.35L90.3 68.99L90.8 69.62L91.3 70.24L91.8 70.84L92.3 71.43L92.8 72L93.3 72.56L93.8 73.1L94.3 73.62L94.8 74.12L95.3 74.61L95.8 75.08L96.3 75.52L96.8 75.96L97.3 76.37L97.8 76.77L98.3 77.15L98.8 77.51L99.3 77.86L99.8 78.2L100.3 78.52L100.8 78.83L101.3 79.13L101.8 79.41L102.3 79.68L102.8 79.94L103.3 80.19L103.8 80.43L104.3 80.66L104.8 80.88L105.3 81.09L105.8 81.3L106.3 81.49L106.8 81.68L107.3 81.87L107.8 82.04L108.3 82.21L108.8 82.38L109.3 82.54L109.8 82.69L110.3 82.84L110.8 82.98L111.3 83.12L111.8 83.25L112.3 83.37L112.8 83.5L113.3 83.61L113.8 83.72L114.3 83.83L114.8 83.93L115.3 84.03L115.8 84.12L116.3 84.21L116.8 84.29L117.3 84.37L117.8 84.45L118.3 84.52L118.8 84.59L119.3 84.65L119.8 84.71L120.3 84.77L120.8 84.82L121.3 84.87L121.8 84.91L122.3 84.96L122.8 85L123.3 85.03L123.8 85.06L124.3 85.09L124.8 85.12L125.3 85.15L125.8 85.17L126.3 85.19L126.8 85.2L127.3 85.22L127.8 85.23L128.3 85.24L128.8 85.25L129.3 85.25L129.8 85.26L130.3 85.26L130.8 85.26L131.3 85.26L131.8 85.25L132.3 85.25L132.8 85.24L133.3 85.24L133.8 85.23L134.3 85.22L134.8 85.21L135.3 85.2L135.8 85.19L136.3 85.17L136.8 85.16L137.3 85.15L137.8 85.13L138.3 85.12L138.8 85.1L139.3 85.09L139.8 85.08L140.3 85.06L140.8 85.05L141.3 85.03L141.8 85.02L142.3 85L142.8 84.99L143.3 84.98L143.8 84.97L144.3 84.96L144.8 84.95L145.3 84.94L145.8 84.93L146.3 84.92L146.8 84.92L147.3 84.91L147.8 84.91L148.3 84.91L148.8 84.91L149.3 84.91L149.8 84.91L150.3 84.91L150.8 84.92L151.3 84.92L151.8 84.92L152.3 84.93L152.8 84.93L153.3 84.94L153.8 84.94L154.3 84.95L154.8 84.96L155.3 84.96L155.8 84.97L156.3 84.98L156.8 84.98L157.3 84.99L157.8 85L158.3 85L158.8 85.01L159.3 85.01L159.8 85.02L160.3 85.02L160.8 85.03L161.3 85.03L161.8 85.03L162.3 85.03L162.8 85.03L163.3 85.03L163.8 85.03L164.3 85.03L164.8 85.02L165.3 85.02L165.8 85.01L166.3 85L166.8 84.99L167.3 84.98L167.8 84.97L168.3 84.95L168.8 84.94L169.3 84.92L169.8 84.9L170.3 84.88L170.8 84.85L171.3 84.83L171.8 84.8L172.3 84.77L172.8 84.73L173.3 84.7L173.8 84.66L174.3 84.62L174.8 84.58L175.3 84.53L175.8 84.48L176.3 84.43L176.8 84.38L177.3 84.32L177.8 84.26L178.3 84.2L178.8 84.13L179.3 84.06L179.8 83.99L180.3 83.91L180.8 83.83L181.3 83.75L181.8 83.66L182.3 83.57L182.8 83.47L183.3 83.37L183.8 83.27L184.3 83.17L184.8 83.06L185.3 82.95L185.8 82.84L186.3 82.73L186.8 82.61L187.3 82.5L187.8 82.38L188.3 82.26L188.8 82.14L189.3 82.02L189.8 81.9L190.3 81.78L190.8 81.67L191.3 81.55L191.8 81.43L192.3 81.32L192.8 81.2L193.3 81.09L193.8 80.98L194.3 80.87L194.8 80.77L195.3 80.66L195.8 80.57L196.3 80.47L196.8 80.38L197.3 80.29L197.8 80.21L198.3 80.13L198.8 80.05L199.3 79.98L199.8 79.92L200.3 79.86L200.8 79.81L201.3 79.76L201.8 79.72L202.3 79.69L202.8 79.66L203.3 79.64L203.8 79.63L204.3 79.62L204.8 79.63L205.3 79.64L205.8 79.66L206.3 79.69L206.8 79.73L207.3 79.77L207.8 79.83L208.3 79.9L208.8 79.97L209.3 80.06L209.8 80.16L210.3 80.26L210.8 80.38L211.3 80.51L211.8 80.66L212.3 80.81L212.8 80.97L213.3 81.15L213.8 81.33L214.3 81.53L214.8 81.74L215.3 81.95L215.8 82.18L216.3 82.41L216.8 82.66L217.3 82.91L217.8 83.17L218.3 83.44L218.8 83.72L219.3 84L219.8 84.29L220.3 84.59L220.8 84.9L221.3 85.21L221.8 85.53L222.3 85.86L222.8 86.19L223.3 86.53L223.8 86.87L224.3 87.22L224.8 87.57L225.3 87.93L225.8 88.29L226.3 88.66L226.8 89.02L227.3 89.4L227.8 89.78L228.3 90.16L228.8 90.54L229.3 90.92L229.8 91.31L230.3 91.7L230.8 92.09L231.3 92.49L231.8 92.88L232.3 93.28L232.8 93.67L233.3 94.07L233.8 94.47L234.3 94.87L234.8 95.26L235.3 95.66L235.8 96.06L236.3 96.45L236.8 96.85L237.3 97.24L237.8 97.63L238.3 98.03L238.8 98.42L239.3 98.82L239.8 99.21L240.3 99.61L240.8 100.01L241.3 100.41L241.8 100.81L242.3 101.21L242.8 101.62L243.3 102.03L243.8 102.44L244.3 102.86L244.8 103.28L245.3 103.7L245.8 104.13L246.3 104.56L246.8 105L247.3 105.44L247.8 105.88L248.3 106.33L248.8 106.79L249.3 107.25L249.8 107.72L250.3 108.19L250.8 108.66L251.3 109.14L251.8 109.62L252.3 110.1L252.8 110.58L253.3 111.07L253.8 111.55L254.3 112.03L254.8 112.52L255.3 113L255.8 113.48L256.3 113.95L256.8 114.43L257.3 114.9L257.8 115.37L258.3 115.83L258.8 116.29L259.3 116.74L259.8 117.18L260.3 117.62L260.8 118.06L261.3 118.48L261.8 118.9L262.3 119.31L262.8 119.71L263.3 120.11L263.8 120.5L264.3 120.87L264.8 121.24L265.3 121.61L265.8 121.96L266.3 122.31L266.8 122.64L267.3 122.97L267.8 123.29L268.3 123.6L268.8 123.9L269.3 124.19L269.8 124.47L270.3 124.74L270.8 125L271.3 125.25L271.8 125.49L272.3 125.72L272.8 125.94L273.3 126.15L273.8 126.35L274.3 126.54L274.8 126.72L275.3 126.88L275.8 127.04L276.3 127.18L276.8 127.31L277.3 127.43L277.8 127.54L278.3 127.64L278.8 127.73L279.3 127.8L279.8 127.86L280.3 127.91L280.8 127.94L281.3 127.97" fill="none" stroke="#f75559" stroke-width="1.8" stroke-linejoin="round" clip-path="url(#cpT)"/>
<path d="M50.3 7.62L50.8 7.92L51.3 8.23L51.8 8.55L52.3 8.88L52.8 9.22L53.3 9.56L53.8 9.92L54.3 10.28L54.8 10.65L55.3 11.03L55.8 11.41L56.3 11.81L56.8 12.21L57.3 12.63L57.8 13.05L58.3 13.48L58.8 13.92L59.3 14.37L59.8 14.83L60.3 15.29L60.8 15.77L61.3 16.26L61.8 16.75L62.3 17.25L62.8 17.77L63.3 18.29L63.8 18.82L64.3 19.36L64.8 19.91L65.3 20.47L65.8 21.04L66.3 21.62L66.8 22.21L67.3 22.8L67.8 23.41L68.3 24.03L68.8 24.65L69.3 25.28L69.8 25.92L70.3 26.57L70.8 27.23L71.3 27.89L71.8 28.56L72.3 29.24L72.8 29.92L73.3 30.61L73.8 31.3L74.3 32.01L74.8 32.71L75.3 33.42L75.8 34.14L76.3 34.86L76.8 35.59L77.3 36.32L77.8 37.05L78.3 37.79L78.8 38.53L79.3 39.28L79.8 40.02L80.3 40.77L80.8 41.52L81.3 42.27L81.8 43.02L82.3 43.77L82.8 44.52L83.3 45.27L83.8 46.02L84.3 46.76L84.8 47.51L85.3 48.25L85.8 48.99L86.3 49.73L86.8 50.46L87.3 51.19L87.8 51.92L88.3 52.64L88.8 53.36L89.3 54.07L89.8 54.77L90.3 55.47L90.8 56.16L91.3 56.85L91.8 57.53L92.3 58.2L92.8 58.86L93.3 59.51L93.8 60.16L94.3 60.79L94.8 61.42L95.3 62.03L95.8 62.64L96.3 63.23L96.8 63.81L97.3 64.38L97.8 64.94L98.3 65.48L98.8 66.02L99.3 66.54L99.8 67.04L100.3 67.53L100.8 68.01L101.3 68.47L101.8 68.92L102.3 69.35L102.8 69.77L103.3 70.17L103.8 70.56L104.3 70.93L104.8 71.29L105.3 71.64L105.8 71.97L106.3 72.29L106.8 72.6L107.3 72.9L107.8 73.18L108.3 73.45L108.8 73.71L109.3 73.96L109.8 74.2L110.3 74.42L110.8 74.64L111.3 74.84L111.8 75.04L112.3 75.22L112.8 75.4L113.3 75.56L113.8 75.72L114.3 75.87L114.8 76L115.3 76.14L115.8 76.26L116.3 76.37L116.8 76.48L117.3 76.58L117.8 76.67L118.3 76.75L118.8 76.83L119.3 76.9L119.8 76.97L120.3 77.03L120.8 77.08L121.3 77.13L121.8 77.18L122.3 77.21L122.8 77.25L123.3 77.28L123.8 77.3L124.3 77.32L124.8 77.34L125.3 77.36L125.8 77.37L126.3 77.38L126.8 77.38L127.3 77.38L127.8 77.39L128.3 77.39L128.8 77.38L129.3 77.38L129.8 77.37L130.3 77.37L130.8 77.36L131.3 77.35L131.8 77.35L132.3 77.34L132.8 77.33L133.3 77.33L133.8 77.32L134.3 77.32L134.8 77.31L135.3 77.31L135.8 77.31L136.3 77.32L136.8 77.32L137.3 77.33L137.8 77.33L138.3 77.34L138.8 77.35L139.3 77.37L139.8 77.38L140.3 77.39L140.8 77.41L141.3 77.43L141.8 77.45L142.3 77.47L142.8 77.5L143.3 77.52L143.8 77.55L144.3 77.58L144.8 77.61L145.3 77.64L145.8 77.67L146.3 77.71L146.8 77.74L147.3 77.78L147.8 77.82L148.3 77.86L148.8 77.9L149.3 77.94L149.8 77.99L150.3 78.03L150.8 78.08L151.3 78.13L151.8 78.18L152.3 78.23L152.8 78.29L153.3 78.34L153.8 78.4L154.3 78.45L154.8 78.51L155.3 78.57L155.8 78.64L156.3 78.7L156.8 78.76L157.3 78.83L157.8 78.89L158.3 78.96L158.8 79.03L159.3 79.1L159.8 79.18L160.3 79.25L160.8 79.32L161.3 79.4L161.8 79.48L162.3 79.55L162.8 79.63L163.3 79.71L163.8 79.8L164.3 79.88L164.8 79.96L165.3 80.05L165.8 80.13L166.3 80.22L166.8 80.31L167.3 80.4L167.8 80.49L168.3 80.58L168.8 80.68L169.3 80.77L169.8 80.87L170.3 80.96L170.8 81.06L171.3 81.16L171.8 81.26L172.3 81.36L172.8 81.46L173.3 81.57L173.8 81.67L174.3 81.78L174.8 81.88L175.3 81.99L175.8 82.1L176.3 82.21L176.8 82.32L177.3 82.43L177.8 82.54L178.3 82.65L178.8 82.76L179.3 82.88L179.8 83L180.3 83.11L180.8 83.23L181.3 83.35L181.8 83.47L182.3 83.59L182.8 83.71L183.3 83.83L183.8 83.96L184.3 84.08L184.8 84.21L185.3 84.34L185.8 84.47L186.3 84.6L186.8 84.73L187.3 84.86L187.8 84.99L188.3 85.13L188.8 85.26L189.3 85.4L189.8 85.54L190.3 85.68L190.8 85.82L191.3 85.96L191.8 86.1L192.3 86.24L192.8 86.39L193.3 86.53L193.8 86.68L194.3 86.83L194.8 86.98L195.3 87.13L195.8 87.28L196.3 87.44L196.8 87.59L197.3 87.75L197.8 87.91L198.3 88.06L198.8 88.23L199.3 88.39L199.8 88.55L200.3 88.71L200.8 88.88L201.3 89.05L201.8 89.21L202.3 89.38L202.8 89.55L203.3 89.73L203.8 89.9L204.3 90.08L204.8 90.25L205.3 90.43L205.8 90.61L206.3 90.79L206.8 90.97L207.3 91.16L207.8 91.34L208.3 91.53L208.8 91.71L209.3 91.9L209.8 92.1L210.3 92.29L210.8 92.48L211.3 92.68L211.8 92.87L212.3 93.07L212.8 93.27L213.3 93.47L213.8 93.68L214.3 93.88L214.8 94.09L215.3 94.3L215.8 94.5L216.3 94.72L216.8 94.93L217.3 95.14L217.8 95.36L218.3 95.58L218.8 95.79L219.3 96.01L219.8 96.24L220.3 96.46L220.8 96.69L221.3 96.91L221.8 97.14L222.3 97.37L222.8 97.61L223.3 97.84L223.8 98.07L224.3 98.31L224.8 98.55L225.3 98.79L225.8 99.03L226.3 99.28L226.8 99.52L227.3 99.77L227.8 100.02L228.3 100.27L228.8 100.53L229.3 100.78L229.8 101.04L230.3 101.3L230.8 101.56L231.3 101.82L231.8 102.08L232.3 102.35L232.8 102.61L233.3 102.88L233.8 103.15L234.3 103.43L234.8 103.7L235.3 103.98L235.8 104.25L236.3 104.53L236.8 104.81L237.3 105.09L237.8 105.38L238.3 105.66L238.8 105.95L239.3 106.23L239.8 106.52L240.3 106.81L240.8 107.1L241.3 107.39L241.8 107.68L242.3 107.98L242.8 108.27L243.3 108.57L243.8 108.87L244.3 109.16L244.8 109.46L245.3 109.76L245.8 110.06L246.3 110.36L246.8 110.67L247.3 110.97L247.8 111.27L248.3 111.58L248.8 111.88L249.3 112.19L249.8 112.5L250.3 112.8L250.8 113.11L251.3 113.42L251.8 113.73L252.3 114.03L252.8 114.34L253.3 114.65L253.8 114.96L254.3 115.27L254.8 115.58L255.3 115.89L255.8 116.21L256.3 116.52L256.8 116.83L257.3 117.14L257.8 117.45L258.3 117.76L258.8 118.07L259.3 118.38L259.8 118.7L260.3 119.01L260.8 119.32L261.3 119.63L261.8 119.94L262.3 120.25L262.8 120.56L263.3 120.86L263.8 121.17L264.3 121.47L264.8 121.78L265.3 122.07L265.8 122.37L266.3 122.67L266.8 122.96L267.3 123.25L267.8 123.53L268.3 123.81L268.8 124.09L269.3 124.36L269.8 124.63L270.3 124.9L270.8 125.16L271.3 125.41L271.8 125.66L272.3 125.9L272.8 126.14L273.3 126.37L273.8 126.6L274.3 126.81L274.8 127.03L275.3 127.23L275.8 127.43L276.3 127.62L276.8 127.8L277.3 127.98L277.8 128.14L278.3 128.3L278.8 128.45L279.3 128.59L279.8 128.72L280.3 128.84L280.8 128.95L281.3 129.05" fill="none" stroke="#f75559" stroke-width="1.8" stroke-linejoin="round" clip-path="url(#cpT)"/>
<path d="M50.3 13.5L50.8 15.06L51.3 16.57L51.8 18L52.3 19.35L52.8 20.65L53.3 21.91L53.8 23.13L54.3 24.34L54.8 25.55L55.3 26.76L55.8 28L56.3 29.24L56.8 30.47L57.3 31.69L57.8 32.92L58.3 34.16L58.8 35.41L59.3 36.69L59.8 38L60.3 39.35L60.8 40.72L61.3 42.13L61.8 43.56L62.3 45L62.8 46.46L63.3 47.92L63.8 49.38L64.3 50.84L64.8 52.28L65.3 53.72L65.8 55.14L66.3 56.57L66.8 58.01L67.3 59.45L67.8 60.89L68.3 62.34L68.8 63.77L69.3 65.2L69.8 66.62L70.3 68.03L70.8 69.42L71.3 70.8L71.8 72.15L72.3 73.48L72.8 74.78L73.3 76.07L73.8 77.35L74.3 78.61L74.8 79.85L75.3 81.07L75.8 82.28L76.3 83.47L76.8 84.63L77.3 85.77L77.8 86.89L78.3 87.98L78.8 89.04L79.3 90.08L79.8 91.11L80.3 92.14L80.8 93.15L81.3 94.18L81.8 95.21L82.3 96.26L82.8 97.33L83.3 98.4L83.8 99.47L84.3 100.53L84.8 101.58L85.3 102.59L85.8 103.56L86.3 104.48L86.8 105.34L87.3 106.16L87.8 106.94L88.3 107.68L88.8 108.41L89.3 109.11L89.8 109.8L90.3 110.48L90.8 111.16L91.3 111.83L91.8 112.48L92.3 113.12L92.8 113.74L93.3 114.35L93.8 114.93L94.3 115.48L94.8 116L95.3 116.52L95.8 117.03L96.3 117.54L96.8 118.03L97.3 118.5L97.8 118.94L98.3 119.35L98.8 119.71L99.3 120.03L99.8 120.3L100.3 120.55L100.8 120.78L101.3 120.99L101.8 121.19L102.3 121.37L102.8 121.54L103.3 121.71L103.8 121.86L104.3 122.01L104.8 122.15L105.3 122.28L105.8 122.41L106.3 122.53L106.8 122.65L107.3 122.76L107.8 122.86L108.3 122.97L108.8 123.06L109.3 123.16L109.8 123.25L110.3 123.34L110.8 123.43L111.3 123.52L111.8 123.6L112.3 123.69L112.8 123.77L113.3 123.85L113.8 123.93L114.3 124.01L114.8 124.09L115.3 124.16L115.8 124.22L116.3 124.29L116.8 124.35L117.3 124.4L117.8 124.45L118.3 124.5L118.8 124.55L119.3 124.59L119.8 124.64L120.3 124.68L120.8 124.72L121.3 124.76L121.8 124.8L122.3 124.84L122.8 124.88L123.3 124.92L123.8 124.95L124.3 124.99L124.8 125.02L125.3 125.05L125.8 125.08L126.3 125.12L126.8 125.15L127.3 125.17L127.8 125.2L128.3 125.23L128.8 125.26L129.3 125.28L129.8 125.31L130.3 125.34L130.8 125.36L131.3 125.38L131.8 125.41L132.3 125.43L132.8 125.45L133.3 125.47L133.8 125.49L134.3 125.51L134.8 125.53L135.3 125.55L135.8 125.57L136.3 125.59L136.8 125.61L137.3 125.62L137.8 125.64L138.3 125.66L138.8 125.68L139.3 125.69L139.8 125.71L140.3 125.73L140.8 125.75L141.3 125.76L141.8 125.78L142.3 125.8L142.8 125.82L143.3 125.84L143.8 125.85L144.3 125.87L144.8 125.89L145.3 125.91L145.8 125.93L146.3 125.95L146.8 125.97L147.3 126L147.8 126.02L148.3 126.04L148.8 126.06L149.3 126.08L149.8 126.11L150.3 126.13L150.8 126.15L151.3 126.17L151.8 126.19L152.3 126.22L152.8 126.24L153.3 126.26L153.8 126.28L154.3 126.3L154.8 126.32L155.3 126.34L155.8 126.36L156.3 126.38L156.8 126.4L157.3 126.42L157.8 126.43L158.3 126.45L158.8 126.47L159.3 126.48L159.8 126.49L160.3 126.51L160.8 126.52L161.3 126.53L161.8 126.55L162.3 126.56L162.8 126.57L163.3 126.58L163.8 126.59L164.3 126.6L164.8 126.62L165.3 126.63L165.8 126.64L166.3 126.65L166.8 126.66L167.3 126.67L167.8 126.68L168.3 126.69L168.8 126.7L169.3 126.71L169.8 126.72L170.3 126.73L170.8 126.74L171.3 126.75L171.8 126.76L172.3 126.77L172.8 126.78L173.3 126.79L173.8 126.8L174.3 126.8L174.8 126.81L175.3 126.82L175.8 126.83L176.3 126.84L176.8 126.85L177.3 126.86L177.8 126.86L178.3 126.87L178.8 126.88L179.3 126.89L179.8 126.9L180.3 126.9L180.8 126.91L181.3 126.92L181.8 126.93L182.3 126.93L182.8 126.94L183.3 126.95L183.8 126.96L184.3 126.96L184.8 126.97L185.3 126.98L185.8 126.99L186.3 126.99L186.8 127L187.3 127.01L187.8 127.02L188.3 127.02L188.8 127.03L189.3 127.04L189.8 127.05L190.3 127.05L190.8 127.06L191.3 127.07L191.8 127.07L192.3 127.08L192.8 127.09L193.3 127.1L193.8 127.1L194.3 127.11L194.8 127.12L195.3 127.13L195.8 127.13L196.3 127.14L196.8 127.15L197.3 127.16L197.8 127.17L198.3 127.17L198.8 127.18L199.3 127.19L199.8 127.2L200.3 127.2L200.8 127.21L201.3 127.22L201.8 127.23L202.3 127.24L202.8 127.25L203.3 127.25L203.8 127.26L204.3 127.27L204.8 127.28L205.3 127.29L205.8 127.29L206.3 127.3L206.8 127.31L207.3 127.32L207.8 127.32L208.3 127.33L208.8 127.34L209.3 127.35L209.8 127.36L210.3 127.36L210.8 127.37L211.3 127.38L211.8 127.39L212.3 127.4L212.8 127.4L213.3 127.41L213.8 127.42L214.3 127.43L214.8 127.43L215.3 127.44L215.8 127.45L216.3 127.46L216.8 127.47L217.3 127.47L217.8 127.48L218.3 127.49L218.8 127.5L219.3 127.5L219.8 127.51L220.3 127.52L220.8 127.53L221.3 127.53L221.8 127.54L222.3 127.55L222.8 127.56L223.3 127.56L223.8 127.57L224.3 127.58L224.8 127.59L225.3 127.59L225.8 127.6L226.3 127.61L226.8 127.62L227.3 127.62L227.8 127.63L228.3 127.64L228.8 127.64L229.3 127.65L229.8 127.66L230.3 127.67L230.8 127.67L231.3 127.68L231.8 127.69L232.3 127.69L232.8 127.7L233.3 127.71L233.8 127.72L234.3 127.72L234.8 127.73L235.3 127.74L235.8 127.74L236.3 127.75L236.8 127.76L237.3 127.76L237.8 127.77L238.3 127.78L238.8 127.78L239.3 127.79L239.8 127.8L240.3 127.8L240.8 127.81L241.3 127.82L241.8 127.82L242.3 127.83L242.8 127.84L243.3 127.84L243.8 127.85L244.3 127.86L244.8 127.86L245.3 127.87L245.8 127.88L246.3 127.88L246.8 127.89L247.3 127.9L247.8 127.9L248.3 127.91L248.8 127.92L249.3 127.92L249.8 127.93L250.3 127.93L250.8 127.94L251.3 127.95L251.8 127.95L252.3 127.96L252.8 127.97L253.3 127.97L253.8 127.98L254.3 127.99L254.8 127.99L255.3 128L255.8 128L256.3 128.01L256.8 128.02L257.3 128.02L257.8 128.03L258.3 128.03L258.8 128.04L259.3 128.05L259.8 128.05L260.3 128.06L260.8 128.07L261.3 128.07L261.8 128.08L262.3 128.08L262.8 128.09L263.3 128.1L263.8 128.1L264.3 128.11L264.8 128.11L265.3 128.12L265.8 128.12L266.3 128.13L266.8 128.14L267.3 128.14L267.8 128.15L268.3 128.15L268.8 128.16L269.3 128.17L269.8 128.17L270.3 128.18L270.8 128.18L271.3 128.19L271.8 128.19L272.3 128.2L272.8 128.21L273.3 128.21L273.8 128.22L274.3 128.22L274.8 128.23L275.3 128.23L275.8 128.24L276.3 128.24L276.8 128.25L277.3 128.26L277.8 128.26L278.3 128.27L278.8 128.27L279.3 128.28L279.8 128.28L280.3 128.29L280.8 128.29L281.3 128.3" fill="none" stroke="#f75559" stroke-width="1.8" stroke-linejoin="round" clip-path="url(#cpT)"/>
<path d="M50.3 13.5L50.8 15.06L51.3 16.57L51.8 18L52.3 19.35L52.8 20.65L53.3 21.91L53.8 23.13L54.3 24.34L54.8 25.55L55.3 26.76L55.8 28L56.3 29.21L56.8 30.37L57.3 31.5L57.8 32.64L58.3 33.83L58.8 35.1L59.3 36.48L59.8 38L60.3 39.79L60.8 41.88L61.3 44.17L61.8 46.57L62.3 48.97L62.8 51.28L63.3 53.41L63.8 55.45L64.3 57.47L64.8 59.46L65.3 61.42L65.8 63.35L66.3 65.24L66.8 67.09L67.3 68.89L67.8 70.64L68.3 72.33L68.8 73.98L69.3 75.57L69.8 77.13L70.3 78.64L70.8 80.13L71.3 81.59L71.8 83.02L72.3 84.44L72.8 85.84L73.3 87.2L73.8 88.53L74.3 89.84L74.8 91.14L75.3 92.42L75.8 93.71L76.3 95L76.8 96.31L77.3 97.63L77.8 98.95L78.3 100.27L78.8 101.56L79.3 102.83L79.8 104.05L80.3 105.23L80.8 106.39L81.3 107.53L81.8 108.65L82.3 109.75L82.8 110.82L83.3 111.86L83.8 112.85L84.3 113.8L84.8 114.7L85.3 115.56L85.8 116.39L86.3 117.2L86.8 117.99L87.3 118.74L87.8 119.47L88.3 120.17L88.8 120.85L89.3 121.49L89.8 122.1L90.3 122.7L90.8 123.28L91.3 123.86L91.8 124.42L92.3 124.95L92.8 125.46L93.3 125.93L93.8 126.35L94.3 126.73L94.8 127.06L95.3 127.36L95.8 127.65L96.3 127.92L96.8 128.18L97.3 128.41L97.8 128.63L98.3 128.82L98.8 128.99L99.3 129.13L99.8 129.24L100.3 129.35L100.8 129.45L101.3 129.54L101.8 129.63L102.3 129.71L102.8 129.78L103.3 129.85L103.8 129.91L104.3 129.97L104.8 130.02L105.3 130.06L105.8 130.1L106.3 130.13L106.8 130.17L107.3 130.2L107.8 130.23L108.3 130.26L108.8 130.29L109.3 130.32L109.8 130.34L110.3 130.37L110.8 130.39L111.3 130.41L111.8 130.43L112.3 130.44L112.8 130.46L113.3 130.47L113.8 130.48L114.3 130.49L114.8 130.5L115.3 130.5L115.8 130.51L116.3 130.51L116.8 130.51L117.3 130.52L117.8 130.52L118.3 130.52L118.8 130.53L119.3 130.53L119.8 130.53L120.3 130.54L120.8 130.54L121.3 130.54L121.8 130.55L122.3 130.55L122.8 130.55L123.3 130.55L123.8 130.55L124.3 130.56L124.8 130.56L125.3 130.56L125.8 130.56L126.3 130.56L126.8 130.57L127.3 130.57L127.8 130.57L128.3 130.57L128.8 130.57L129.3 130.57L129.8 130.58L130.3 130.58L130.8 130.58L131.3 130.58L131.8 130.58L132.3 130.58L132.8 130.58L133.3 130.58L133.8 130.59L134.3 130.59L134.8 130.59L135.3 130.59L135.8 130.59L136.3 130.59L136.8 130.59L137.3 130.59L137.8 130.59L138.3 130.6L138.8 130.6L139.3 130.6L139.8 130.6L140.3 130.6L140.8 130.6L141.3 130.6L141.8 130.6L142.3 130.61L142.8 130.61L143.3 130.61L143.8 130.61L144.3 130.61L144.8 130.61L145.3 130.61L145.8 130.61L146.3 130.61L146.8 130.62L147.3 130.62L147.8 130.62L148.3 130.62L148.8 130.62L149.3 130.62L149.8 130.62L150.3 130.62L150.8 130.62L151.3 130.63L151.8 130.63L152.3 130.63L152.8 130.63L153.3 130.63L153.8 130.63L154.3 130.63L154.8 130.63L155.3 130.64L155.8 130.64L156.3 130.64L156.8 130.64L157.3 130.64L157.8 130.64L158.3 130.64L158.8 130.64L159.3 130.64L159.8 130.65L160.3 130.65L160.8 130.65L161.3 130.65L161.8 130.65L162.3 130.65L162.8 130.65L163.3 130.65L163.8 130.65L164.3 130.65L164.8 130.66L165.3 130.66L165.8 130.66L166.3 130.66L166.8 130.66L167.3 130.66L167.8 130.66L168.3 130.66L168.8 130.66L169.3 130.67L169.8 130.67L170.3 130.67L170.8 130.67L171.3 130.67L171.8 130.67L172.3 130.67L172.8 130.67L173.3 130.67L173.8 130.67L174.3 130.68L174.8 130.68L175.3 130.68L175.8 130.68L176.3 130.68L176.8 130.68L177.3 130.68L177.8 130.68L178.3 130.68L178.8 130.68L179.3 130.69L179.8 130.69L180.3 130.69L180.8 130.69L181.3 130.69L181.8 130.69L182.3 130.69L182.8 130.69L183.3 130.69L183.8 130.69L184.3 130.7L184.8 130.7L185.3 130.7L185.8 130.7L186.3 130.7L186.8 130.7L187.3 130.7L187.8 130.7L188.3 130.7L188.8 130.7L189.3 130.71L189.8 130.71L190.3 130.71L190.8 130.71L191.3 130.71L191.8 130.71L192.3 130.71L192.8 130.71L193.3 130.71L193.8 130.71L194.3 130.71L194.8 130.72L195.3 130.72L195.8 130.72L196.3 130.72L196.8 130.72L197.3 130.72L197.8 130.72L198.3 130.72L198.8 130.72L199.3 130.72L199.8 130.72L200.3 130.72L200.8 130.73L201.3 130.73L201.8 130.73L202.3 130.73L202.8 130.73L203.3 130.73L203.8 130.73L204.3 130.73L204.8 130.73L205.3 130.73L205.8 130.73L206.3 130.73L206.8 130.74L207.3 130.74L207.8 130.74L208.3 130.74L208.8 130.74L209.3 130.74L209.8 130.74L210.3 130.74L210.8 130.74L211.3 130.74L211.8 130.74L212.3 130.74L212.8 130.74L213.3 130.75L213.8 130.75L214.3 130.75L214.8 130.75L215.3 130.75L215.8 130.75L216.3 130.75L216.8 130.75L217.3 130.75L217.8 130.75L218.3 130.75L218.8 130.75L219.3 130.75L219.8 130.75L220.3 130.76L220.8 130.76L221.3 130.76L221.8 130.76L222.3 130.76L222.8 130.76L223.3 130.76L223.8 130.76L224.3 130.76L224.8 130.76L225.3 130.76L225.8 130.76L226.3 130.76L226.8 130.76L227.3 130.76L227.8 130.77L228.3 130.77L228.8 130.77L229.3 130.77L229.8 130.77L230.3 130.77L230.8 130.77L231.3 130.77L231.8 130.77L232.3 130.77L232.8 130.77L233.3 130.77L233.8 130.77L234.3 130.77L234.8 130.77L235.3 130.77L235.8 130.77L236.3 130.77L236.8 130.78L237.3 130.78L237.8 130.78L238.3 130.78L238.8 130.78L239.3 130.78L239.8 130.78L240.3 130.78L240.8 130.78L241.3 130.78L241.8 130.78L242.3 130.78L242.8 130.78L243.3 130.78L243.8 130.78L244.3 130.78L244.8 130.78L245.3 130.78L245.8 130.78L246.3 130.78L246.8 130.78L247.3 130.79L247.8 130.79L248.3 130.79L248.8 130.79L249.3 130.79L249.8 130.79L250.3 130.79L250.8 130.79L251.3 130.79L251.8 130.79L252.3 130.79L252.8 130.79L253.3 130.79L253.8 130.79L254.3 130.79L254.8 130.79L255.3 130.79L255.8 130.79L256.3 130.79L256.8 130.79L257.3 130.79L257.8 130.79L258.3 130.79L258.8 130.79L259.3 130.79L259.8 130.79L260.3 130.79L260.8 130.79L261.3 130.79L261.8 130.79L262.3 130.8L262.8 130.8L263.3 130.8L263.8 130.8L264.3 130.8L264.8 130.8L265.3 130.8L265.8 130.8L266.3 130.8L266.8 130.8L267.3 130.8L267.8 130.8L268.3 130.8L268.8 130.8L269.3 130.8L269.8 130.8L270.3 130.8L270.8 130.8L271.3 130.8L271.8 130.8L272.3 130.8L272.8 130.8L273.3 130.8L273.8 130.8L274.3 130.8L274.8 130.8L275.3 130.8L275.8 130.8L276.3 130.8L276.8 130.8L277.3 130.8L277.8 130.8L278.3 130.8L278.8 130.8L279.3 130.8L279.8 130.8L280.3 130.8L280.8 130.8L281.3 130.8" fill="none" stroke="#f75559" stroke-width="1.8" stroke-linejoin="round" clip-path="url(#cpT)"/>
<path d="M56.6 138L56.85 141.9L57.1 146.49L57.35 151.65L57.6 157.53L57.85 165.46L58.1 174.26L58.35 182.16L58.6 187.4L58.85 190.46L59.1 193.05L59.35 195.23L59.6 197.07L59.85 198.64L60.1 200L60.35 201.25L60.6 202.49L60.85 203.65L61.1 204.64L61.35 205.38L61.6 205.76L61.85 205.68L62.1 204.99L62.35 203.81L62.6 202.28L62.85 200.53L63.1 198.72L63.35 196.86L63.6 194.65L63.85 192.09L64.1 189.22L64.35 186.1L64.6 182.78L64.85 179.26L65.1 174.71L65.35 169.53L65.6 164.78L65.85 161.47L66.1 158.83L66.35 156.36L66.6 154.25L66.85 152.7L67.1 151.88L67.35 151.88L67.6 152.32L67.85 153.05L68.1 153.95L68.35 154.93L68.6 155.91L68.85 157.27L69.1 158.97L69.35 160.9L69.6 162.91L69.85 164.88L70.1 166.68L70.35 168.17L70.6 169.21L70.85 169.69L71.1 169.43L71.35 168.48L71.6 167.06L71.85 165.4L72.1 163.74L72.35 162.32L72.6 161.37L72.85 161.1L73.1 161.22L73.35 161.47L73.6 161.82L73.85 162.22L74.1 162.62L74.35 163L74.6 163.29L74.85 163.47L75.1 163.5L75.35 163.48L75.6 163.43L75.85 163.35L76.1 163.24L76.35 163.08L76.6 162.87L76.85 162.62L77.1 162.3" fill="none" stroke="#1f8ca6" stroke-width="1.8" stroke-linejoin="round" clip-path="url(#cpB)"/>
<path d="M77.1 164.44L77.5 163.68L77.9 163.4L78.3 163.28L78.7 164.48L79.1 164.77L79.5 163.81L79.9 164.73L80.3 164.27L80.7 163.21L81.1 163.77L81.5 165.26L81.9 165.83L82.3 165.3L82.7 164.67L83.1 164.33L83.5 165.36L83.9 165.26L84.3 163.79L84.7 165.62L85.1 164.62L85.5 165.76L85.9 165.72L86.3 165.94L86.7 166.29L87.1 166.1L87.5 164.86L87.9 165.03L88.3 166.79L88.7 166.5L89.1 165.03L89.5 164.79L89.9 167.1L90.3 168.13L90.7 167.04L91.1 166.21L91.5 166.6L91.9 164.26L92.3 165.59L92.7 167.15L93.1 167.02L93.5 164.68L93.9 167.26L94.3 166.74L94.7 167.05L95.1 166.15L95.5 166.31L95.9 165.46L96.3 166.55L96.7 167L97.1 165.57L97.5 166.59L97.9 165.89L98.3 167.12L98.7 167.07L99.1 164.46L99.5 166.66L99.9 167.09L100.3 165.87L100.7 166.13L101.1 166.18L101.5 165.41L101.9 166.21L102.3 167.52L102.7 166.68L103.1 167.52L103.5 167.13L103.9 167.34L104.3 166.55L104.7 167.12L105.1 168.16L105.5 167.81L105.9 166.99L106.3 166.28L106.7 166.19L107.1 167.18L107.5 167.43L107.9 165.74L108.3 167.43L108.7 167.62L109.1 167.67L109.5 167.11L109.9 169.44L110.3 168.43L110.7 166.8L111.1 167.43L111.5 168.73L111.9 168.64L112.3 168.47L112.7 168.48L113.1 168.48L113.5 168.44L113.9 168.13L114.3 169.53L114.7 167.06L115.1 168.82L115.5 170.54L115.9 169.15L116.3 169.04L116.7 171.66L117.1 171.21L117.5 170.51L117.9 170.39L118.3 170.88L118.7 171L119.1 171.28L119.5 171.09L119.9 172.26L120.3 171.56L120.7 170.73L121.1 171.25L121.5 172.37L121.9 171.68L122.3 170.65L122.7 173.83L123.1 173.13L123.5 172.46L123.9 172.5L124.3 173.38L124.7 174.12L125.1 172.65L125.5 173.52L125.9 172.79L126.3 173.6L126.7 172.53L127.1 172.07L127.5 173.63L127.9 173.59L128.3 174.29L128.7 173.3L129.1 174.98L129.5 174.08L129.9 175.32L130.3 173.97L130.7 175.52L131.1 174.43L131.5 174.73L131.9 175.51L132.3 173.54L132.7 174.24L133.1 176.65L133.5 174.22L133.9 175.17L134.3 176.15L134.7 177.04L135.1 175.69L135.5 176.36L135.9 175.56L136.3 176.32L136.7 177.6L137.1 177.24L137.5 177.15L137.9 177.68L138.3 177.64L138.7 177.84L139.1 177.62L139.5 177.3L139.9 178.76L140.3 177.51L140.7 179.35L141.1 180.37L141.5 180.05L141.9 180.82L142.3 178.35L142.7 179.48L143.1 178.79L143.5 178.99L143.9 178.36L144.3 178.87L144.7 180.61L145.1 180.61L145.5 181.12L145.9 181.18L146.3 181.03L146.7 179.92L147.1 180.57L147.5 181.35L147.9 181.86L148.3 180.72L148.7 180.74L149.1 167.5L149.5 182.58L149.9 181.9L150.3 181.33L150.7 181.09L151.1 182.13L151.5 180.61L151.9 181.84L152.3 181.69L152.7 181.79L153.1 182.52L153.5 182.8L153.9 184.94L154.3 182.79L154.7 183.37L155.1 182.33L155.5 181.79L155.9 184.07L156.3 184.82L156.7 182.65L157.1 183.48L157.5 184.52L157.9 183.85L158.3 182.04L158.7 184.79L159.1 184.02L159.5 184.81L159.9 183.62L160.3 185.16L160.7 185.4L161.1 184.16L161.5 185.21L161.9 184.46L162.3 184.68L162.7 184.48L163.1 184.97L163.5 184.9L163.9 186.44L164.3 185.48L164.7 184.91L165.1 186.95L165.5 186.44L165.9 186.9L166.3 186.21L166.7 186.92L167.1 186.43L167.5 185.9L167.9 186.84L168.3 186.99L168.7 187.11L169.1 187.78L169.5 185.93L169.9 187.62L170.3 186.9L170.7 187.43L171.1 188.12L171.5 187.96L171.9 187.52L172.3 188.75L172.7 188.26L173.1 189.15L173.5 189.52L173.9 188.43L174.3 187.99L174.7 189.03L175.1 189.73L175.5 189.49L175.9 188.48L176.3 188.21L176.7 188.93L177.1 189.06L177.5 190.41L177.9 190.12L178.3 190.88L178.7 190.28L179.1 191.78L179.5 190.64L179.9 191.2L180.3 190.61L180.7 191.41L181.1 192.04L181.5 191.95L181.9 192.48L182.3 191.19L182.7 192.15L183.1 193.26L183.5 192.3L183.9 192.14L184.3 192.25L184.7 192.18L185.1 192.86L185.5 193.98L185.9 193.42L186.3 193.22L186.7 192.8L187.1 192.71L187.5 195.57L187.9 193.56L188.3 194.16L188.7 193.88L189.1 194.55L189.5 194.26L189.9 194.83L190.3 196.02L190.7 194.51L191.1 195.64L191.5 195.34L191.9 196.1L192.3 195.18L192.7 196.16L193.1 195.25L193.5 194.76L193.9 195.29L194.3 195.7L194.7 195.7L195.1 196.44L195.5 197.65L195.9 196.08L196.3 197.4L196.7 197.3L197.1 196.77L197.5 196.71L197.9 197.86L198.3 198.02L198.7 197.5L199.1 197.76L199.5 197.98L199.9 197.1L200.3 198.29L200.7 198.55L201.1 199.76L201.5 197.56L201.9 197.98L202.3 198.81L202.7 198.41L203.1 198.65L203.5 199.07L203.9 198.95L204.3 199.26L204.7 199.73L205.1 198.28L205.5 200.04L205.9 198.03L206.3 201.13L206.7 200.66L207.1 199.62L207.5 200.97L207.9 200.21L208.3 200.78L208.7 201.15L209.1 200.97L209.5 200.84L209.9 201.44L210.3 200.97L210.7 200.97L211.1 200.68L211.5 200.17L211.9 202.88L212.3 202.42L212.7 200.93L213.1 202.43L213.5 202.44L213.9 200.79L214.3 201.97L214.7 202.68L215.1 204.21L215.5 203.91L215.9 204.19L216.3 203.65L216.7 204.33L217.1 202.86L217.5 204.38L217.9 204.63L218.3 203.3L218.7 204.62L219.1 205.75L219.5 206.23L219.9 206.02L220.3 204.6L220.7 205.24L221.1 205.1L221.5 206.59L221.9 205.21L222.3 205.24L222.7 204.99L223.1 206.54L223.5 206.9L223.9 206.3L224.3 206.36L224.7 206.97L225.1 208.31L225.5 206.47L225.9 207.63L226.3 208.01L226.7 208.32L227.1 209.17L227.5 209.04L227.9 208.81L228.3 209.9L228.7 209.86L229.1 209.41L229.5 209.58L229.9 208.71L230.3 209.9L230.7 209.43L231.1 209.37L231.5 210.23L231.9 209.36L232.3 210.21L232.7 210.72L233.1 211.58L233.5 211.32L233.9 212.1L234.3 213.23L234.7 212.9L235.1 211.67L235.5 211.46L235.9 212.36L236.3 212.65L236.7 212.09L237.1 212.56L237.5 212.85L237.9 213.97L238.3 215.78L238.7 216.29L239.1 214.55L239.5 215.28L239.9 214.91L240.3 215.04L240.7 216.54L241.1 216.97L241.5 225.7L241.9 218.1L242.3 217.74L242.7 219.18L243.1 218.37L243.5 219.78L243.9 219.42L244.3 220.13L244.7 220.99L245.1 220.02L245.5 221L245.9 222.04L246.3 222.43L246.7 223.39L247.1 223.14L247.5 223.3L247.9 224.76L248.3 225.59L248.7 225.29L249.1 227.31L249.5 227.4L249.9 227.96L250.3 228.34L250.7 227.53L251.1 230.19L251.5 228.47L251.9 229.7L252.3 230.36L252.7 230.47L253.1 230.75L253.5 230.39L253.9 231.08L254.3 231.79L254.7 233.11L255.1 232.01L255.5 233.38L255.9 233.56L256.3 233.65L256.7 233.53L257.1 234.19L257.5 233.34L257.9 235.06L258.3 235.57L258.7 235.27L259.1 236.39L259.5 236.56L259.9 236.11L260.3 237.61L260.7 236.9L261.1 239.43L261.5 237.17L261.9 237.65L262.3 238.09L262.7 239.06L263.1 240.05L263.5 242L263.9 239.48L264.3 241.5L264.7 241.13L265.1 240.45L265.5 240.86L265.9 240.08L266.3 241.53L266.7 243.07L267.1 241.18L267.5 241.27L267.9 242.7L268.3 241.08L268.7 244.18L269.1 242.27L269.5 243.13L269.9 243.81L270.3 245.09L270.7 244.75L271.1 243.29L271.5 243.71L271.9 245.39L272.3 243.92L272.7 245.53L273.1 245.39L273.5 246.87L273.9 247.44L274.3 244.92L274.7 247.39L275.1 247.81L275.5 247.02L275.9 247.42L276.3 247.24L276.7 248.15L277.1 248.98L277.5 249.95L277.9 250.3L278.3 249.28L278.7 249.14L279.1 250.78L279.5 248.23L279.9 249.53L280.3 251.33L280.7 252.79L281.1 250.8L281.5 251.73L281.9 251.09L282.3 252.14L282.7 252.4L283.1 252.16L283.5 253.29L283.9 253.13L284.3 253.9L284.7 253.63L285.1 253.13L285.5 254.4L285.9 255.19L286.3 254.21L286.7 256.05L287.1 255.63L287.5 255.27L287.9 255.8L288.3 255.7L288.7 255.57L289.1 257.17L289.5 257.39L289.9 256.6L290.3 257.02L290.7 257.22L291.1 258.12L291.5 258.92L291.9 257.54L292.3 258.48L292.7 258.45L293.1 259.1L293.5 259.98L293.9 258.45L294.3 257.77L294.7 259.39L295.1 258.52L295.5 261.18L295.9 259.61L296.3 260.12L296.7 260.71L297.1 260.88L297.5 260.6L297.9 261.1L298.3 262L298.7 261.25L299.1 263.05L299.5 262.11L299.9 260.25L300.3 262.86L300.7 261.04L301.1 262.78L301.5 264.39L301.9 263.67L302.3 262.17L302.7 262.56L303.1 263.34L303.5 264.57L303.9 263.08L304.3 264.62L304.7 264.17L305.1 264.01L305.5 264.11L305.9 265.64L306.3 263.39L306.7 263.81L307.1 265.48L307.5 265.69L307.9 264.1L308.3 264.52L308.7 264.48L309.1 265.89L309.5 265.11L309.9 266.8L310.3 266.43L310.7 266.17L311.1 266.24L311.5 266.62L311.9 266.96L312.3 266.44L312.7 266.73L313.1 267.24L313.5 266.7L313.9 267.6L314.3 266.84L314.7 263.5L315.1 267.27L315.5 268.47L315.9 268.44L316.3 266.2L316.7 267.72L317.1 267.2L317.5 267.41L317.9 267.48L318.3 267.65L318.7 267.51L319.1 267.77L319.5 268.23L319.9 267.23L320.3 267.28L320.7 265.5L321.1 267.5L321.5 268.87L321.9 267.66L322.3 268.49L322.7 268.66L323.1 269.21L323.5 268.76L323.9 269.59L324.3 265.2L324.7 269.09L325.1 269.52L325.5 267.9" fill="none" stroke="#1f8ca6" stroke-width="2.4" stroke-linejoin="round" clip-path="url(#cpB)"/>
<path d="M50.3 184.82L50.7 186.19L51.1 184.17L51.5 183.56L51.9 186.34L52.3 183.81L52.7 185.24L53.1 180.29L53.5 183.57L53.9 182.68L54.3 183.83L54.7 184.87L55.1 179.5L55.5 182.91L55.9 179.39L56.3 184.27L56.7 185.02L57.1 183.47L57.5 182.69L57.9 183.91L58.3 184.91L58.7 184.49L59.1 186.54L59.5 183.1L59.9 180.5L60.3 184.75L60.7 185.91L61.1 183.68L61.5 184.39L61.9 183.59L62.3 182.81L62.7 183.55L63.1 181.78L63.5 184.97L63.9 185.26L64.3 185.86L64.7 183.57L65.1 183.85L65.5 182.47L65.9 182.79L66.3 185.98L66.7 188.61L67.1 183.39L67.5 184.3L67.9 186.11L68.3 183.93L68.7 185.67L69.1 184.5L69.5 184.52L69.9 186.16L70.3 184.61L70.7 183.26L71.1 186.1L71.5 185.04L71.9 184.28L72.3 183.96L72.7 185.85L73.1 184.12L73.5 185.28L73.9 186.5L74.3 185.02L74.7 186.67L75.1 183.37L75.5 186.08L75.9 186.02L76.3 187.86L76.7 185.4L77.1 186.62L77.5 185.23L77.9 184.06L78.3 184.34L78.7 184.62L79.1 186.67L79.5 184.61L79.9 185.76L80.3 186.97L80.7 187.48L81.1 187.11L81.5 187.91L81.9 184.41L82.3 185.33L82.7 186.46L83.1 187.59L83.5 186.81L83.9 185.14L84.3 185.97L84.7 184.04L85.1 187.4L85.5 183.95L85.9 186.69L86.3 187.9L86.7 187.71L87.1 184.36L87.5 186.86L87.9 186.14L88.3 186.25L88.7 188.91L89.1 187.11L89.5 184.83L89.9 185.33L90.3 187.78L90.7 187.16L91.1 185.35L91.5 184.65L91.9 186.19L92.3 186.37L92.7 188.09L93.1 186.18L93.5 187.94L93.9 188.69L94.3 184.91L94.7 186.31L95.1 189.22L95.5 186.54L95.9 187.15L96.3 188.49L96.7 186.18L97.1 186.67L97.5 185.02L97.9 195.5L98.3 186.63L98.7 186.81L99.1 183.86L99.5 188.67L99.9 188.32L100.3 186.33L100.7 189.09L101.1 184.14L101.5 187.39L101.9 185.23L102.3 191.22L102.7 184.03L103.1 185.94L103.5 186.59L103.9 188.74L104.3 188.8L104.7 188.24L105.1 187.41L105.5 190.67L105.9 186.83L106.3 188.26L106.7 190.24L107.1 186.24L107.5 186.85L107.9 189.48L108.3 188.64L108.7 186.28L109.1 188.14L109.5 190.74L109.9 187.83L110.3 189.31L110.7 188.43L111.1 187.36L111.5 190.52L111.9 189.7L112.3 190.05L112.7 188.27L113.1 188.65L113.5 188.87L113.9 189.21L114.3 188.19L114.7 188.02L115.1 190.53L115.5 187.31L115.9 188.25L116.3 188.39L116.7 188.26L117.1 187.37L117.5 188.02L117.9 190.2L118.3 188.68L118.7 188.22L119.1 191.54L119.5 187.53L119.9 190.8L120.3 189.94L120.7 187.68L121.1 189.03L121.5 189.12L121.9 191.46L122.3 191.02L122.7 189.46L123.1 188.32L123.5 187.69L123.9 189.82L124.3 188.23L124.7 189.96L125.1 190L125.5 190.87L125.9 191.79L126.3 190.67L126.7 191.24L127.1 190.46L127.5 192.19L127.9 191.97L128.3 193.12L128.7 192.92L129.1 190.16L129.5 189.27L129.9 192.22L130.3 193.01L130.7 190.66L131.1 193.73L131.5 191.96L131.9 191.85L132.3 192.6L132.7 190.37L133.1 190.21L133.5 192.14L133.9 191.19L134.3 192.93L134.7 193.13L135.1 189.84L135.5 192.43L135.9 194.42L136.3 190.76L136.7 193.65L137.1 192.47L137.5 191.85L137.9 196.22L138.3 196.37L138.7 194.54L139.1 194.64L139.5 197.39L139.9 197.34L140.3 195.89L140.7 197.27L141.1 196.42L141.5 196.04L141.9 197.48L142.3 196.24L142.7 197.78L143.1 196.82L143.5 196.7L143.9 196.71L144.3 198.27L144.7 199.08L145.1 198.56L145.5 196.97L145.9 199.14L146.3 197.25L146.7 197.11L147.1 198.52L147.5 200.05L147.9 200.05L148.3 200.04L148.7 201.3L149.1 200.77L149.5 199.28L149.9 200.99L150.3 212.2L150.7 200.79L151.1 201.22L151.5 200.49L151.9 198.74L152.3 200.72L152.7 200.67L153.1 201.1L153.5 200.85L153.9 200.07L154.3 199.59L154.7 202.81L155.1 203.15L155.5 202.76L155.9 202.37L156.3 205.23L156.7 203.67L157.1 207.5L157.5 204.23L157.9 203.2L158.3 204.41L158.7 204.02L159.1 204.54L159.5 204.08L159.9 203.56L160.3 205.03L160.7 206.03L161.1 203.47L161.5 204.16L161.9 206.5L162.3 206.4L162.7 205.1L163.1 206.76L163.5 204.68L163.9 207.02L164.3 205.32L164.7 205.64L165.1 207.15L165.5 206.08L165.9 205.97L166.3 208.14L166.7 207.02L167.1 208.94L167.5 210.83L167.9 206.85L168.3 207.31L168.7 205.89L169.1 206.51L169.5 209.05L169.9 208.81L170.3 208.94L170.7 209.33L171.1 207.74L171.5 206.76L171.9 210.61L172.3 209.64L172.7 210.97L173.1 209.55L173.5 210.75L173.9 209.17L174.3 210.01L174.7 209.94L175.1 210.79L175.5 212.3L175.9 211.43L176.3 206.84L176.7 210.71L177.1 211L177.5 212.2L177.9 211.46L178.3 210.47L178.7 210.51L179.1 211.25L179.5 210.9L179.9 213.9L180.3 212.96L180.7 212.38L181.1 213.76L181.5 215.51L181.9 212.52L182.3 212.93L182.7 212.74L183.1 211.68L183.5 212.66L183.9 212.45L184.3 214.53L184.7 214.69L185.1 215.46L185.5 213.47L185.9 216.03L186.3 213.62L186.7 214.89L187.1 217.08L187.5 217.22L187.9 217.25L188.3 218.83L188.7 217.63L189.1 216.12L189.5 216.38L189.9 215.86L190.3 217.42L190.7 216.32L191.1 216.7L191.5 216.43L191.9 215.69L192.3 221.46L192.7 219.53L193.1 215.76L193.5 219.31L193.9 218.15L194.3 216.21L194.7 218.95L195.1 219.68L195.5 220.33L195.9 221.19L196.3 218.73L196.7 219.94L197.1 221.05L197.5 221.02L197.9 220.96L198.3 220.71L198.7 222.36L199.1 219.16L199.5 218.98L199.9 223.43L200.3 221.8L200.7 222.86L201.1 221.8L201.5 221.14L201.9 221.14L202.3 222.07L202.7 221.38L203.1 222.05L203.5 222.16L203.9 223.49L204.3 223.59L204.7 224.79L205.1 221.84L205.5 222.87L205.9 224.34L206.3 223.66L206.7 220.08L207.1 223.96L207.5 223.61L207.9 223.13L208.3 223.36L208.7 223.11L209.1 225.77L209.5 225.29L209.9 224.83L210.3 226.2L210.7 226.12L211.1 223.95L211.5 223.82L211.9 224.05L212.3 226.58L212.7 225.74L213.1 227.56L213.5 226.83L213.9 226.06L214.3 224.84L214.7 226.36L215.1 229.87L215.5 226.18L215.9 226.2L216.3 227.2L216.7 229.49L217.1 227.83L217.5 226.62L217.9 227.48L218.3 228.31L218.7 228.8L219.1 230.25L219.5 232.41L219.9 231.12L220.3 230.36L220.7 229.69L221.1 228.86L221.5 230.9L221.9 232.03L222.3 231.63L222.7 230.58L223.1 231.84L223.5 230.87L223.9 231.16L224.3 231.28L224.7 231.9L225.1 231.91L225.5 233.57L225.9 232.45L226.3 232.53L226.7 234.26L227.1 234.02L227.5 234.82L227.9 232.54L228.3 235.5L228.7 233.98L229.1 232.82L229.5 234.22L229.9 233.02L230.3 233.56L230.7 234.55L231.1 236.58L231.5 233.78L231.9 236.15L232.3 235.64L232.7 238.27L233.1 236.69L233.5 237.45L233.9 238.74L234.3 235.66L234.7 236.87L235.1 235.58L235.5 236.65L235.9 238.4L236.3 237.96L236.7 238.93L237.1 238.08L237.5 237.91L237.9 238.84L238.3 238.07L238.7 237.97L239.1 237.55L239.5 239.67L239.9 240.61L240.3 238.63L240.7 239.83L241.1 237.63L241.5 239.28L241.9 241.13L242.3 239.55L242.7 242.03L243.1 241.14L243.5 242.36L243.9 241.37L244.3 240.45L244.7 242.51L245.1 243.7L245.5 242.3L245.9 243.71L246.3 242.51L246.7 243.22L247.1 245.54L247.5 244.12L247.9 243.16L248.3 245.35L248.7 244.95L249.1 244.44L249.5 246.3L249.9 241.86L250.3 246.67L250.7 248.68L251.1 246.86L251.5 244.29L251.9 248.83L252.3 250.64L252.7 248.41L253.1 246.58L253.5 247.41L253.9 248.44L254.3 249.18L254.7 250.8L255.1 250.33L255.5 246.98L255.9 249.86L256.3 250.4L256.7 253.35L257.1 250.5L257.5 249.77L257.9 251.53L258.3 252.61L258.7 250.19L259.1 254.34L259.5 253.07L259.9 254.65L260.3 254.8L260.7 254.92L261.1 256.36L261.5 257.02L261.9 254.62L262.3 255.36L262.7 257.12L263.1 256.26L263.5 255.58L263.9 256.79L264.3 255.84L264.7 256.61L265.1 253.07L265.5 258.05L265.9 260.58L266.3 259.43L266.7 259.68L267.1 259.31L267.5 258.38L267.9 260.32L268.3 260.04L268.7 260.08L269.1 260.87L269.5 260.09L269.9 261.29L270.3 262.25L270.7 262.98L271.1 262.14L271.5 263.28L271.9 262.73L272.3 259.85L272.7 260.54L273.1 263.01L273.5 262.11L273.9 264.49L274.3 262.36L274.7 263.73L275.1 263.8L275.5 263.8L275.9 264.24L276.3 265.17L276.7 265.55L277.1 265.02L277.5 266.1L277.9 266.77L278.3 266.11L278.7 265.73L279.1 265.96L279.5 266.4L279.9 266.53L280.3 267.44L280.7 270.68L281.1 268.99L281.5 267.87L281.9 268.66L282.3 268.78L282.7 269.68L283.1 269.98L283.5 267.37L283.9 271.11L284.3 267.73L284.7 268.91L285.1 267.99L285.5 267.12L285.9 267.13L286.3 271.38L286.7 270.93L287.1 268.31L287.5 268.25L287.9 271.15L288.3 268.57L288.7 270.16L289.1 271.9L289.5 270.59L289.9 271.4L290.3 270.1L290.7 268.13L291.1 269.1L291.5 268.14L291.9 270.36L292.3 268.72L292.7 270.23L293.1 269.63L293.5 269.47L293.9 270.72L294.3 269.76L294.7 269.44L295.1 271.29L295.5 270.29L295.9 268.91L296.3 271.54L296.7 269.04L297.1 270.66L297.5 270.96L297.9 270.23L298.3 269.71L298.7 270.21L299.1 270.21L299.5 269.52L299.9 271.36L300.3 270.02L300.7 269.92L301.1 271.84L301.5 269.93L301.9 269.22L302.3 270.54L302.7 270.61L303.1 270.63L303.5 272.42L303.9 270.11L304.3 271.76L304.7 271.36L305.1 271.84L305.5 270.52L305.9 270.34L306.3 270.44L306.7 270.87L307.1 271.4L307.5 271.95L307.9 269.19L308.3 271.47L308.7 270.92L309.1 270.66L309.5 269.81L309.9 270.89L310.3 269.23L310.7 271.57L311.1 269.92L311.5 270.53L311.9 270.5L312.3 271.05L312.7 269.65L313.1 271.22L313.5 270.92L313.9 271.72L314.3 270.83L314.7 270.53L315.1 269.31L315.5 270.37L315.9 271.74L316.3 270.31L316.7 270.29L317.1 270.53L317.5 271.18L317.9 269.48L318.3 271.78L318.7 270.99L319.1 271.07L319.5 270.61L319.9 271.83L320.3 270.35L320.7 271.11L321.1 270.68L321.5 269.88L321.9 270.54L322.3 271.03L322.7 270.46L323.1 270.39L323.5 270.61L323.9 270.14L324.3 270.01L324.7 270.66L325.1 270.12L325.5 270.92" fill="none" stroke="#ee9448" stroke-width="2.6" stroke-linejoin="round" clip-path="url(#cpB)"/>
<path d="M50.3 165.49L50.8 165.52L51.3 165.54L51.8 165.57L52.3 165.59L52.8 165.62L53.3 165.65L53.8 165.67L54.3 165.7L54.8 165.72L55.3 165.75L55.8 165.77L56.3 165.8L56.8 165.83L57.3 165.85L57.8 165.88L58.3 165.91L58.8 165.93L59.3 165.96L59.8 165.99L60.3 166.02L60.8 166.04L61.3 166.07L61.8 166.1L62.3 166.13L62.8 166.16L63.3 166.18L63.8 166.21L64.3 166.24L64.8 166.27L65.3 166.3L65.8 166.33L66.3 166.36L66.8 166.39L67.3 166.42L67.8 166.45L68.3 166.48L68.8 166.51L69.3 166.54L69.8 166.57L70.3 166.61L70.8 166.64L71.3 166.67L71.8 166.7L72.3 166.74L72.8 166.77L73.3 166.8L73.8 166.84L74.3 166.87L74.8 166.9L75.3 166.94L75.8 166.97L76.3 167.01L76.8 167.04L77.3 167.08L77.8 167.12L78.3 167.15L78.8 167.19L79.3 167.23L79.8 167.26L80.3 167.3L80.8 167.34L81.3 167.38L81.8 167.42L82.3 167.46L82.8 167.5L83.3 167.54L83.8 167.58L84.3 167.62L84.8 167.66L85.3 167.7L85.8 167.74L86.3 167.78L86.8 167.83L87.3 167.87L87.8 167.91L88.3 167.96L88.8 168L89.3 168.05L89.8 168.09L90.3 168.14L90.8 168.19L91.3 168.23L91.8 168.28L92.3 168.33L92.8 168.38L93.3 168.42L93.8 168.47L94.3 168.52L94.8 168.57L95.3 168.62L95.8 168.67L96.3 168.73L96.8 168.78L97.3 168.83L97.8 168.88L98.3 168.94L98.8 168.99L99.3 169.05L99.8 169.1L100.3 169.16L100.8 169.21L101.3 169.27L101.8 169.33L102.3 169.39L102.8 169.44L103.3 169.5L103.8 169.56L104.3 169.62L104.8 169.68L105.3 169.75L105.8 169.81L106.3 169.87L106.8 169.93L107.3 170L107.8 170.06L108.3 170.13L108.8 170.19L109.3 170.26L109.8 170.33L110.3 170.39L110.8 170.46L111.3 170.53L111.8 170.6L112.3 170.67L112.8 170.74L113.3 170.81L113.8 170.89L114.3 170.96L114.8 171.03L115.3 171.11L115.8 171.18L116.3 171.26L116.8 171.33L117.3 171.41L117.8 171.49L118.3 171.57L118.8 171.64L119.3 171.72L119.8 171.81L120.3 171.89L120.8 171.97L121.3 172.05L121.8 172.13L122.3 172.22L122.8 172.3L123.3 172.39L123.8 172.48L124.3 172.56L124.8 172.65L125.3 172.74L125.8 172.83L126.3 172.92L126.8 173.01L127.3 173.1L127.8 173.2L128.3 173.29L128.8 173.38L129.3 173.48L129.8 173.58L130.3 173.67L130.8 173.77L131.3 173.87L131.8 173.97L132.3 174.07L132.8 174.17L133.3 174.27L133.8 174.37L134.3 174.48L134.8 174.58L135.3 174.69L135.8 174.79L136.3 174.9L136.8 175.01L137.3 175.12L137.8 175.23L138.3 175.34L138.8 175.45L139.3 175.56L139.8 175.68L140.3 175.79L140.8 175.91L141.3 176.02L141.8 176.14L142.3 176.26L142.8 176.38L143.3 176.5L143.8 176.62L144.3 176.74L144.8 176.86L145.3 176.99L145.8 177.11L146.3 177.24L146.8 177.36L147.3 177.49L147.8 177.62L148.3 177.75L148.8 177.88L149.3 178.01L149.8 178.15L150.3 178.28L150.8 178.41L151.3 178.55L151.8 178.69L152.3 178.82L152.8 178.96L153.3 179.1L153.8 179.24L154.3 179.39L154.8 179.53L155.3 179.67L155.8 179.82L156.3 179.96L156.8 180.11L157.3 180.26L157.8 180.41L158.3 180.56L158.8 180.71L159.3 180.87L159.8 181.02L160.3 181.17L160.8 181.33L161.3 181.49L161.8 181.65L162.3 181.81L162.8 181.97L163.3 182.13L163.8 182.29L164.3 182.45L164.8 182.62L165.3 182.79L165.8 182.95L166.3 183.12L166.8 183.29L167.3 183.46L167.8 183.64L168.3 183.81L168.8 183.98L169.3 184.16L169.8 184.34L170.3 184.51L170.8 184.69L171.3 184.87L171.8 185.06L172.3 185.24L172.8 185.42L173.3 185.61L173.8 185.8L174.3 185.98L174.8 186.17L175.3 186.36L175.8 186.55L176.3 186.75L176.8 186.94L177.3 187.14L177.8 187.33L178.3 187.53L178.8 187.73L179.3 187.93L179.8 188.13L180.3 188.34L180.8 188.54L181.3 188.75L181.8 188.95L182.3 189.16L182.8 189.37L183.3 189.58L183.8 189.8L184.3 190.01L184.8 190.23L185.3 190.44L185.8 190.66L186.3 190.88L186.8 191.1L187.3 191.32L187.8 191.54L188.3 191.77L188.8 191.99L189.3 192.22L189.8 192.45L190.3 192.68L190.8 192.91L191.3 193.15L191.8 193.38L192.3 193.62L192.8 193.85L193.3 194.09L193.8 194.33L194.3 194.57L194.8 194.82L195.3 195.06L195.8 195.31L196.3 195.55L196.8 195.8L197.3 196.05L197.8 196.3L198.3 196.56L198.8 196.81L199.3 197.07L199.8 197.32L200.3 197.58L200.8 197.84L201.3 198.11L201.8 198.37L202.3 198.63L202.8 198.9L203.3 199.17L203.8 199.44L204.3 199.71L204.8 199.98L205.3 200.26L205.8 200.53L206.3 200.81L206.8 201.09L207.3 201.37L207.8 201.65L208.3 201.93L208.8 202.22L209.3 202.51L209.8 202.79L210.3 203.08L210.8 203.37L211.3 203.67L211.8 203.96L212.3 204.26L212.8 204.55L213.3 204.85L213.8 205.15L214.3 205.46L214.8 205.76L215.3 206.06L215.8 206.37L216.3 206.68L216.8 206.98L217.3 207.29L217.8 207.61L218.3 207.92L218.8 208.23L219.3 208.55L219.8 208.86L220.3 209.18L220.8 209.5L221.3 209.82L221.8 210.14L222.3 210.46L222.8 210.78L223.3 211.11L223.8 211.43L224.3 211.76L224.8 212.08L225.3 212.41L225.8 212.74L226.3 213.07L226.8 213.4L227.3 213.73L227.8 214.06L228.3 214.4L228.8 214.73L229.3 215.07L229.8 215.4L230.3 215.74L230.8 216.08L231.3 216.41L231.8 216.75L232.3 217.09L232.8 217.43L233.3 217.77L233.8 218.11L234.3 218.45L234.8 218.8L235.3 219.14L235.8 219.48L236.3 219.83L236.8 220.17L237.3 220.52L237.8 220.86L238.3 221.21L238.8 221.55L239.3 221.9L239.8 222.25L240.3 222.6L240.8 222.94L241.3 223.29L241.8 223.64L242.3 223.99L242.8 224.34L243.3 224.69L243.8 225.04L244.3 225.38L244.8 225.73L245.3 226.08L245.8 226.43L246.3 226.78L246.8 227.13L247.3 227.48L247.8 227.83L248.3 228.19L248.8 228.54L249.3 228.89L249.8 229.24L250.3 229.59L250.8 229.94L251.3 230.29L251.8 230.64L252.3 230.99L252.8 231.33L253.3 231.68L253.8 232.03L254.3 232.38L254.8 232.73L255.3 233.08L255.8 233.43L256.3 233.77L256.8 234.12L257.3 234.47L257.8 234.82L258.3 235.16L258.8 235.51L259.3 235.85L259.8 236.2L260.3 236.54L260.8 236.89L261.3 237.23L261.8 237.57L262.3 237.92L262.8 238.26L263.3 238.6L263.8 238.94L264.3 239.28L264.8 239.62L265.3 239.96L265.8 240.3L266.3 240.63L266.8 240.97L267.3 241.31L267.8 241.64L268.3 241.98L268.8 242.31L269.3 242.64L269.8 242.97L270.3 243.3L270.8 243.63L271.3 243.96L271.8 244.29L272.3 244.62L272.8 244.94L273.3 245.27L273.8 245.59L274.3 245.92L274.8 246.24L275.3 246.56L275.8 246.88L276.3 247.2L276.8 247.51L277.3 247.83L277.8 248.15L278.3 248.46L278.8 248.77L279.3 249.08L279.8 249.39L280.3 249.7L280.8 250.01L281.3 250.32L281.8 250.62L282.3 250.92L282.8 251.23L283.3 251.53L283.8 251.83L284.3 252.12L284.8 252.42L285.3 252.71L285.8 253.01L286.3 253.3L286.8 253.59L287.3 253.88L287.8 254.16L288.3 254.45L288.8 254.73L289.3 255.01L289.8 255.29L290.3 255.57L290.8 255.85L291.3 256.12L291.8 256.4L292.3 256.67L292.8 256.94L293.3 257.21L293.8 257.47L294.3 257.74L294.8 258L295.3 258.26L295.8 258.52L296.3 258.77L296.8 259.03L297.3 259.28L297.8 259.53L298.3 259.78L298.8 260.02L299.3 260.27L299.8 260.51L300.3 260.75L300.8 260.99L301.3 261.22L301.8 261.46L302.3 261.69L302.8 261.92L303.3 262.14L303.8 262.37L304.3 262.59L304.8 262.81L305.3 263.03L305.8 263.24L306.3 263.46L306.8 263.67L307.3 263.88L307.8 264.08L308.3 264.28L308.8 264.48L309.3 264.68L309.8 264.88L310.3 265.07L310.8 265.26L311.3 265.45L311.8 265.64L312.3 265.82L312.8 266L313.3 266.18L313.8 266.35L314.3 266.52L314.8 266.69L315.3 266.86L315.8 267.02L316.3 267.18L316.8 267.34L317.3 267.5L317.8 267.65L318.3 267.8L318.8 267.95L319.3 268.09L319.8 268.23L320.3 268.37L320.8 268.5L321.3 268.64L321.8 268.76L322.3 268.89L322.8 269.01L323.3 269.13L323.8 269.25L324.3 269.36L324.8 269.47L325.3 269.58" fill="none" stroke="#f75559" stroke-width="1.8" stroke-linejoin="round" clip-path="url(#cpB)"/>
<path d="M50.3 185.06L50.8 185.12L51.3 185.18L51.8 185.24L52.3 185.3L52.8 185.36L53.3 185.42L53.8 185.48L54.3 185.53L54.8 185.59L55.3 185.65L55.8 185.7L56.3 185.76L56.8 185.81L57.3 185.86L57.8 185.92L58.3 185.97L58.8 186.02L59.3 186.07L59.8 186.12L60.3 186.17L60.8 186.22L61.3 186.27L61.8 186.32L62.3 186.37L62.8 186.41L63.3 186.46L63.8 186.51L64.3 186.56L64.8 186.6L65.3 186.65L65.8 186.69L66.3 186.74L66.8 186.78L67.3 186.83L67.8 186.87L68.3 186.91L68.8 186.96L69.3 187L69.8 187.04L70.3 187.08L70.8 187.13L71.3 187.17L71.8 187.21L72.3 187.25L72.8 187.29L73.3 187.33L73.8 187.37L74.3 187.42L74.8 187.46L75.3 187.5L75.8 187.54L76.3 187.58L76.8 187.62L77.3 187.66L77.8 187.7L78.3 187.74L78.8 187.78L79.3 187.82L79.8 187.86L80.3 187.9L80.8 187.94L81.3 187.98L81.8 188.02L82.3 188.06L82.8 188.09L83.3 188.13L83.8 188.17L84.3 188.21L84.8 188.26L85.3 188.3L85.8 188.34L86.3 188.38L86.8 188.42L87.3 188.46L87.8 188.5L88.3 188.54L88.8 188.58L89.3 188.62L89.8 188.67L90.3 188.71L90.8 188.75L91.3 188.79L91.8 188.84L92.3 188.88L92.8 188.92L93.3 188.97L93.8 189.01L94.3 189.06L94.8 189.1L95.3 189.15L95.8 189.19L96.3 189.24L96.8 189.28L97.3 189.33L97.8 189.38L98.3 189.43L98.8 189.47L99.3 189.52L99.8 189.57L100.3 189.62L100.8 189.67L101.3 189.72L101.8 189.77L102.3 189.83L102.8 189.88L103.3 189.93L103.8 189.98L104.3 190.04L104.8 190.09L105.3 190.15L105.8 190.2L106.3 190.26L106.8 190.32L107.3 190.38L107.8 190.43L108.3 190.49L108.8 190.55L109.3 190.62L109.8 190.68L110.3 190.74L110.8 190.8L111.3 190.87L111.8 190.93L112.3 191L112.8 191.06L113.3 191.13L113.8 191.2L114.3 191.27L114.8 191.33L115.3 191.41L115.8 191.48L116.3 191.55L116.8 191.62L117.3 191.7L117.8 191.77L118.3 191.85L118.8 191.92L119.3 192L119.8 192.08L120.3 192.16L120.8 192.24L121.3 192.32L121.8 192.41L122.3 192.49L122.8 192.58L123.3 192.66L123.8 192.75L124.3 192.84L124.8 192.93L125.3 193.02L125.8 193.11L126.3 193.2L126.8 193.3L127.3 193.39L127.8 193.49L128.3 193.59L128.8 193.68L129.3 193.78L129.8 193.89L130.3 193.99L130.8 194.09L131.3 194.2L131.8 194.3L132.3 194.41L132.8 194.52L133.3 194.63L133.8 194.74L134.3 194.85L134.8 194.97L135.3 195.08L135.8 195.2L136.3 195.32L136.8 195.44L137.3 195.56L137.8 195.68L138.3 195.8L138.8 195.92L139.3 196.05L139.8 196.17L140.3 196.3L140.8 196.43L141.3 196.56L141.8 196.69L142.3 196.82L142.8 196.96L143.3 197.09L143.8 197.23L144.3 197.36L144.8 197.5L145.3 197.64L145.8 197.78L146.3 197.92L146.8 198.07L147.3 198.21L147.8 198.36L148.3 198.5L148.8 198.65L149.3 198.8L149.8 198.95L150.3 199.1L150.8 199.25L151.3 199.41L151.8 199.56L152.3 199.72L152.8 199.87L153.3 200.03L153.8 200.19L154.3 200.35L154.8 200.51L155.3 200.68L155.8 200.84L156.3 201.01L156.8 201.17L157.3 201.34L157.8 201.51L158.3 201.68L158.8 201.85L159.3 202.02L159.8 202.19L160.3 202.37L160.8 202.54L161.3 202.72L161.8 202.9L162.3 203.08L162.8 203.26L163.3 203.44L163.8 203.62L164.3 203.8L164.8 203.99L165.3 204.17L165.8 204.36L166.3 204.55L166.8 204.74L167.3 204.93L167.8 205.12L168.3 205.31L168.8 205.5L169.3 205.7L169.8 205.89L170.3 206.09L170.8 206.28L171.3 206.48L171.8 206.68L172.3 206.88L172.8 207.09L173.3 207.29L173.8 207.49L174.3 207.7L174.8 207.9L175.3 208.11L175.8 208.32L176.3 208.53L176.8 208.74L177.3 208.95L177.8 209.16L178.3 209.38L178.8 209.59L179.3 209.8L179.8 210.02L180.3 210.24L180.8 210.46L181.3 210.68L181.8 210.9L182.3 211.12L182.8 211.34L183.3 211.57L183.8 211.79L184.3 212.02L184.8 212.24L185.3 212.47L185.8 212.7L186.3 212.93L186.8 213.16L187.3 213.39L187.8 213.63L188.3 213.86L188.8 214.1L189.3 214.33L189.8 214.57L190.3 214.81L190.8 215.04L191.3 215.28L191.8 215.53L192.3 215.77L192.8 216.01L193.3 216.25L193.8 216.5L194.3 216.75L194.8 216.99L195.3 217.24L195.8 217.49L196.3 217.74L196.8 217.99L197.3 218.24L197.8 218.49L198.3 218.75L198.8 219L199.3 219.26L199.8 219.51L200.3 219.77L200.8 220.03L201.3 220.29L201.8 220.55L202.3 220.81L202.8 221.07L203.3 221.33L203.8 221.6L204.3 221.86L204.8 222.13L205.3 222.39L205.8 222.66L206.3 222.93L206.8 223.2L207.3 223.47L207.8 223.74L208.3 224.01L208.8 224.28L209.3 224.56L209.8 224.83L210.3 225.11L210.8 225.38L211.3 225.66L211.8 225.94L212.3 226.22L212.8 226.5L213.3 226.78L213.8 227.06L214.3 227.34L214.8 227.62L215.3 227.91L215.8 228.19L216.3 228.48L216.8 228.76L217.3 229.05L217.8 229.34L218.3 229.63L218.8 229.92L219.3 230.21L219.8 230.5L220.3 230.79L220.8 231.08L221.3 231.38L221.8 231.67L222.3 231.97L222.8 232.26L223.3 232.56L223.8 232.86L224.3 233.15L224.8 233.45L225.3 233.75L225.8 234.05L226.3 234.35L226.8 234.66L227.3 234.96L227.8 235.26L228.3 235.57L228.8 235.87L229.3 236.18L229.8 236.48L230.3 236.79L230.8 237.1L231.3 237.41L231.8 237.72L232.3 238.03L232.8 238.34L233.3 238.65L233.8 238.96L234.3 239.27L234.8 239.59L235.3 239.9L235.8 240.22L236.3 240.53L236.8 240.85L237.3 241.16L237.8 241.48L238.3 241.8L238.8 242.11L239.3 242.43L239.8 242.75L240.3 243.07L240.8 243.39L241.3 243.71L241.8 244.02L242.3 244.34L242.8 244.66L243.3 244.98L243.8 245.3L244.3 245.62L244.8 245.93L245.3 246.25L245.8 246.57L246.3 246.88L246.8 247.2L247.3 247.52L247.8 247.83L248.3 248.14L248.8 248.46L249.3 248.77L249.8 249.08L250.3 249.4L250.8 249.71L251.3 250.02L251.8 250.33L252.3 250.63L252.8 250.94L253.3 251.24L253.8 251.55L254.3 251.85L254.8 252.15L255.3 252.45L255.8 252.75L256.3 253.04L256.8 253.34L257.3 253.63L257.8 253.92L258.3 254.21L258.8 254.5L259.3 254.78L259.8 255.06L260.3 255.34L260.8 255.62L261.3 255.89L261.8 256.16L262.3 256.43L262.8 256.69L263.3 256.96L263.8 257.22L264.3 257.47L264.8 257.73L265.3 257.98L265.8 258.23L266.3 258.48L266.8 258.72L267.3 258.96L267.8 259.2L268.3 259.43L268.8 259.67L269.3 259.9L269.8 260.12L270.3 260.35L270.8 260.57L271.3 260.79L271.8 261L272.3 261.22L272.8 261.43L273.3 261.64L273.8 261.84L274.3 262.05L274.8 262.25L275.3 262.45L275.8 262.64L276.3 262.83L276.8 263.02L277.3 263.21L277.8 263.4L278.3 263.58L278.8 263.76L279.3 263.94L279.8 264.11L280.3 264.28L280.8 264.45L281.3 264.62L281.8 264.79L282.3 264.95L282.8 265.11L283.3 265.27L283.8 265.42L284.3 265.57L284.8 265.72L285.3 265.87L285.8 266.02L286.3 266.16L286.8 266.3L287.3 266.44L287.8 266.57L288.3 266.71L288.8 266.84L289.3 266.97L289.8 267.09L290.3 267.22L290.8 267.34L291.3 267.46L291.8 267.57L292.3 267.69L292.8 267.8L293.3 267.91L293.8 268.02L294.3 268.12L294.8 268.23L295.3 268.33L295.8 268.43L296.3 268.52L296.8 268.62L297.3 268.71L297.8 268.8L298.3 268.89L298.8 268.97L299.3 269.06L299.8 269.14L300.3 269.22L300.8 269.29L301.3 269.37L301.8 269.44L302.3 269.51L302.8 269.58L303.3 269.64L303.8 269.71L304.3 269.77L304.8 269.83L305.3 269.89L305.8 269.94L306.3 269.99L306.8 270.05L307.3 270.09L307.8 270.14L308.3 270.19L308.8 270.23L309.3 270.27L309.8 270.31L310.3 270.35L310.8 270.38L311.3 270.42L311.8 270.45L312.3 270.48L312.8 270.5L313.3 270.53L313.8 270.55L314.3 270.57L314.8 270.59L315.3 270.61L315.8 270.63L316.3 270.64L316.8 270.65L317.3 270.66L317.8 270.67L318.3 270.68L318.8 270.68L319.3 270.68L319.8 270.68L320.3 270.68L320.8 270.68L321.3 270.68L321.8 270.67L322.3 270.66L322.8 270.65L323.3 270.64L323.8 270.62L324.3 270.61L324.8 270.59L325.3 270.57" fill="none" stroke="#f75559" stroke-width="1.8" stroke-linejoin="round" clip-path="url(#cpB)"/>
<line x1="50.3" y1="130.8" x2="325.5" y2="130.8" stroke="#505050" stroke-width="1.0" stroke-dasharray="10.2 6.72" stroke-opacity="0.7"/>
<line x1="50.3" y1="271.1" x2="325.5" y2="271.1" stroke="#505050" stroke-width="1.0" stroke-dasharray="10.2 6.72" stroke-opacity="0.7"/>
<line x1="51" y1="1.5" x2="51" y2="281.5" stroke="#7a7a7a" stroke-width="1"/>
<line x1="325.5" y1="1.5" x2="325.5" y2="281.5" stroke="#8c8c8c" stroke-width="1"/>
<line x1="50.5" y1="1.5" x2="325.5" y2="1.5" stroke="#4a4a4a" stroke-width="1"/>
<line x1="50.5" y1="141.5" x2="325.5" y2="141.5" stroke="#4a4a4a" stroke-width="1"/>
<line x1="50.5" y1="281.5" x2="325.5" y2="281.5" stroke="#9a9a9a" stroke-width="1"/>
<line x1="57.83" y1="1" x2="57.83" y2="3.4" stroke="#7c7c7c" stroke-width="0.6"/>
<line x1="57.83" y1="139.6" x2="57.83" y2="143.4" stroke="#7c7c7c" stroke-width="0.6"/>
<line x1="57.83" y1="279.6" x2="57.83" y2="282" stroke="#7c7c7c" stroke-width="0.6"/>
<line x1="62.24" y1="1" x2="62.24" y2="3.4" stroke="#7c7c7c" stroke-width="0.6"/>
<line x1="62.24" y1="139.6" x2="62.24" y2="143.4" stroke="#7c7c7c" stroke-width="0.6"/>
<line x1="62.24" y1="279.6" x2="62.24" y2="282" stroke="#7c7c7c" stroke-width="0.6"/>
<line x1="65.36" y1="1" x2="65.36" y2="3.4" stroke="#7c7c7c" stroke-width="0.6"/>
<line x1="65.36" y1="139.6" x2="65.36" y2="143.4" stroke="#7c7c7c" stroke-width="0.6"/>
<line x1="65.36" y1="279.6" x2="65.36" y2="282" stroke="#7c7c7c" stroke-width="0.6"/>
<line x1="67.79" y1="1" x2="67.79" y2="3.4" stroke="#7c7c7c" stroke-width="0.6"/>
<line x1="67.79" y1="139.6" x2="67.79" y2="143.4" stroke="#7c7c7c" stroke-width="0.6"/>
<line x1="67.79" y1="279.6" x2="67.79" y2="282" stroke="#7c7c7c" stroke-width="0.6"/>
<line x1="69.77" y1="1" x2="69.77" y2="3.4" stroke="#7c7c7c" stroke-width="0.6"/>
<line x1="69.77" y1="139.6" x2="69.77" y2="143.4" stroke="#7c7c7c" stroke-width="0.6"/>
<line x1="69.77" y1="279.6" x2="69.77" y2="282" stroke="#7c7c7c" stroke-width="0.6"/>
<line x1="71.44" y1="1" x2="71.44" y2="3.4" stroke="#7c7c7c" stroke-width="0.6"/>
<line x1="71.44" y1="139.6" x2="71.44" y2="143.4" stroke="#7c7c7c" stroke-width="0.6"/>
<line x1="71.44" y1="279.6" x2="71.44" y2="282" stroke="#7c7c7c" stroke-width="0.6"/>
<line x1="72.9" y1="1" x2="72.9" y2="3.4" stroke="#7c7c7c" stroke-width="0.6"/>
<line x1="72.9" y1="139.6" x2="72.9" y2="143.4" stroke="#7c7c7c" stroke-width="0.6"/>
<line x1="72.9" y1="279.6" x2="72.9" y2="282" stroke="#7c7c7c" stroke-width="0.6"/>
<line x1="74.18" y1="1" x2="74.18" y2="3.4" stroke="#7c7c7c" stroke-width="0.6"/>
<line x1="74.18" y1="139.6" x2="74.18" y2="143.4" stroke="#7c7c7c" stroke-width="0.6"/>
<line x1="74.18" y1="279.6" x2="74.18" y2="282" stroke="#7c7c7c" stroke-width="0.6"/>
<line x1="75.32" y1="1" x2="75.32" y2="4.3" stroke="#505050" stroke-width="0.7"/>
<line x1="75.32" y1="138.7" x2="75.32" y2="144.3" stroke="#505050" stroke-width="0.7"/>
<line x1="75.32" y1="278.7" x2="75.32" y2="282" stroke="#505050" stroke-width="0.7"/>
<line x1="82.85" y1="1" x2="82.85" y2="3.4" stroke="#7c7c7c" stroke-width="0.6"/>
<line x1="82.85" y1="139.6" x2="82.85" y2="143.4" stroke="#7c7c7c" stroke-width="0.6"/>
<line x1="82.85" y1="279.6" x2="82.85" y2="282" stroke="#7c7c7c" stroke-width="0.6"/>
<line x1="87.26" y1="1" x2="87.26" y2="3.4" stroke="#7c7c7c" stroke-width="0.6"/>
<line x1="87.26" y1="139.6" x2="87.26" y2="143.4" stroke="#7c7c7c" stroke-width="0.6"/>
<line x1="87.26" y1="279.6" x2="87.26" y2="282" stroke="#7c7c7c" stroke-width="0.6"/>
<line x1="90.38" y1="1" x2="90.38" y2="3.4" stroke="#7c7c7c" stroke-width="0.6"/>
<line x1="90.38" y1="139.6" x2="90.38" y2="143.4" stroke="#7c7c7c" stroke-width="0.6"/>
<line x1="90.38" y1="279.6" x2="90.38" y2="282" stroke="#7c7c7c" stroke-width="0.6"/>
<line x1="92.81" y1="1" x2="92.81" y2="3.4" stroke="#7c7c7c" stroke-width="0.6"/>
<line x1="92.81" y1="139.6" x2="92.81" y2="143.4" stroke="#7c7c7c" stroke-width="0.6"/>
<line x1="92.81" y1="279.6" x2="92.81" y2="282" stroke="#7c7c7c" stroke-width="0.6"/>
<line x1="94.79" y1="1" x2="94.79" y2="3.4" stroke="#7c7c7c" stroke-width="0.6"/>
<line x1="94.79" y1="139.6" x2="94.79" y2="143.4" stroke="#7c7c7c" stroke-width="0.6"/>
<line x1="94.79" y1="279.6" x2="94.79" y2="282" stroke="#7c7c7c" stroke-width="0.6"/>
<line x1="96.46" y1="1" x2="96.46" y2="3.4" stroke="#7c7c7c" stroke-width="0.6"/>
<line x1="96.46" y1="139.6" x2="96.46" y2="143.4" stroke="#7c7c7c" stroke-width="0.6"/>
<line x1="96.46" y1="279.6" x2="96.46" y2="282" stroke="#7c7c7c" stroke-width="0.6"/>
<line x1="97.92" y1="1" x2="97.92" y2="3.4" stroke="#7c7c7c" stroke-width="0.6"/>
<line x1="97.92" y1="139.6" x2="97.92" y2="143.4" stroke="#7c7c7c" stroke-width="0.6"/>
<line x1="97.92" y1="279.6" x2="97.92" y2="282" stroke="#7c7c7c" stroke-width="0.6"/>
<line x1="99.2" y1="1" x2="99.2" y2="3.4" stroke="#7c7c7c" stroke-width="0.6"/>
<line x1="99.2" y1="139.6" x2="99.2" y2="143.4" stroke="#7c7c7c" stroke-width="0.6"/>
<line x1="99.2" y1="279.6" x2="99.2" y2="282" stroke="#7c7c7c" stroke-width="0.6"/>
<line x1="100.34" y1="1" x2="100.34" y2="4.3" stroke="#505050" stroke-width="0.7"/>
<line x1="100.34" y1="138.7" x2="100.34" y2="144.3" stroke="#505050" stroke-width="0.7"/>
<line x1="100.34" y1="278.7" x2="100.34" y2="282" stroke="#505050" stroke-width="0.7"/>
<line x1="107.87" y1="1" x2="107.87" y2="3.4" stroke="#7c7c7c" stroke-width="0.6"/>
<line x1="107.87" y1="139.6" x2="107.87" y2="143.4" stroke="#7c7c7c" stroke-width="0.6"/>
<line x1="107.87" y1="279.6" x2="107.87" y2="282" stroke="#7c7c7c" stroke-width="0.6"/>
<line x1="112.28" y1="1" x2="112.28" y2="3.4" stroke="#7c7c7c" stroke-width="0.6"/>
<line x1="112.28" y1="139.6" x2="112.28" y2="143.4" stroke="#7c7c7c" stroke-width="0.6"/>
<line x1="112.28" y1="279.6" x2="112.28" y2="282" stroke="#7c7c7c" stroke-width="0.6"/>
<line x1="115.4" y1="1" x2="115.4" y2="3.4" stroke="#7c7c7c" stroke-width="0.6"/>
<line x1="115.4" y1="139.6" x2="115.4" y2="143.4" stroke="#7c7c7c" stroke-width="0.6"/>
<line x1="115.4" y1="279.6" x2="115.4" y2="282" stroke="#7c7c7c" stroke-width="0.6"/>
<line x1="117.83" y1="1" x2="117.83" y2="3.4" stroke="#7c7c7c" stroke-width="0.6"/>
<line x1="117.83" y1="139.6" x2="117.83" y2="143.4" stroke="#7c7c7c" stroke-width="0.6"/>
<line x1="117.83" y1="279.6" x2="117.83" y2="282" stroke="#7c7c7c" stroke-width="0.6"/>
<line x1="119.81" y1="1" x2="119.81" y2="3.4" stroke="#7c7c7c" stroke-width="0.6"/>
<line x1="119.81" y1="139.6" x2="119.81" y2="143.4" stroke="#7c7c7c" stroke-width="0.6"/>
<line x1="119.81" y1="279.6" x2="119.81" y2="282" stroke="#7c7c7c" stroke-width="0.6"/>
<line x1="121.48" y1="1" x2="121.48" y2="3.4" stroke="#7c7c7c" stroke-width="0.6"/>
<line x1="121.48" y1="139.6" x2="121.48" y2="143.4" stroke="#7c7c7c" stroke-width="0.6"/>
<line x1="121.48" y1="279.6" x2="121.48" y2="282" stroke="#7c7c7c" stroke-width="0.6"/>
<line x1="122.94" y1="1" x2="122.94" y2="3.4" stroke="#7c7c7c" stroke-width="0.6"/>
<line x1="122.94" y1="139.6" x2="122.94" y2="143.4" stroke="#7c7c7c" stroke-width="0.6"/>
<line x1="122.94" y1="279.6" x2="122.94" y2="282" stroke="#7c7c7c" stroke-width="0.6"/>
<line x1="124.22" y1="1" x2="124.22" y2="3.4" stroke="#7c7c7c" stroke-width="0.6"/>
<line x1="124.22" y1="139.6" x2="124.22" y2="143.4" stroke="#7c7c7c" stroke-width="0.6"/>
<line x1="124.22" y1="279.6" x2="124.22" y2="282" stroke="#7c7c7c" stroke-width="0.6"/>
<line x1="125.36" y1="1" x2="125.36" y2="4.3" stroke="#505050" stroke-width="0.7"/>
<line x1="125.36" y1="138.7" x2="125.36" y2="144.3" stroke="#505050" stroke-width="0.7"/>
<line x1="125.36" y1="278.7" x2="125.36" y2="282" stroke="#505050" stroke-width="0.7"/>
<line x1="132.89" y1="1" x2="132.89" y2="3.4" stroke="#7c7c7c" stroke-width="0.6"/>
<line x1="132.89" y1="139.6" x2="132.89" y2="143.4" stroke="#7c7c7c" stroke-width="0.6"/>
<line x1="132.89" y1="279.6" x2="132.89" y2="282" stroke="#7c7c7c" stroke-width="0.6"/>
<line x1="137.3" y1="1" x2="137.3" y2="3.4" stroke="#7c7c7c" stroke-width="0.6"/>
<line x1="137.3" y1="139.6" x2="137.3" y2="143.4" stroke="#7c7c7c" stroke-width="0.6"/>
<line x1="137.3" y1="279.6" x2="137.3" y2="282" stroke="#7c7c7c" stroke-width="0.6"/>
<line x1="140.42" y1="1" x2="140.42" y2="3.4" stroke="#7c7c7c" stroke-width="0.6"/>
<line x1="140.42" y1="139.6" x2="140.42" y2="143.4" stroke="#7c7c7c" stroke-width="0.6"/>
<line x1="140.42" y1="279.6" x2="140.42" y2="282" stroke="#7c7c7c" stroke-width="0.6"/>
<line x1="142.85" y1="1" x2="142.85" y2="3.4" stroke="#7c7c7c" stroke-width="0.6"/>
<line x1="142.85" y1="139.6" x2="142.85" y2="143.4" stroke="#7c7c7c" stroke-width="0.6"/>
<line x1="142.85" y1="279.6" x2="142.85" y2="282" stroke="#7c7c7c" stroke-width="0.6"/>
<line x1="144.83" y1="1" x2="144.83" y2="3.4" stroke="#7c7c7c" stroke-width="0.6"/>
<line x1="144.83" y1="139.6" x2="144.83" y2="143.4" stroke="#7c7c7c" stroke-width="0.6"/>
<line x1="144.83" y1="279.6" x2="144.83" y2="282" stroke="#7c7c7c" stroke-width="0.6"/>
<line x1="146.5" y1="1" x2="146.5" y2="3.4" stroke="#7c7c7c" stroke-width="0.6"/>
<line x1="146.5" y1="139.6" x2="146.5" y2="143.4" stroke="#7c7c7c" stroke-width="0.6"/>
<line x1="146.5" y1="279.6" x2="146.5" y2="282" stroke="#7c7c7c" stroke-width="0.6"/>
<line x1="147.96" y1="1" x2="147.96" y2="3.4" stroke="#7c7c7c" stroke-width="0.6"/>
<line x1="147.96" y1="139.6" x2="147.96" y2="143.4" stroke="#7c7c7c" stroke-width="0.6"/>
<line x1="147.96" y1="279.6" x2="147.96" y2="282" stroke="#7c7c7c" stroke-width="0.6"/>
<line x1="149.24" y1="1" x2="149.24" y2="3.4" stroke="#7c7c7c" stroke-width="0.6"/>
<line x1="149.24" y1="139.6" x2="149.24" y2="143.4" stroke="#7c7c7c" stroke-width="0.6"/>
<line x1="149.24" y1="279.6" x2="149.24" y2="282" stroke="#7c7c7c" stroke-width="0.6"/>
<line x1="150.38" y1="1" x2="150.38" y2="4.3" stroke="#505050" stroke-width="0.7"/>
<line x1="150.38" y1="138.7" x2="150.38" y2="144.3" stroke="#505050" stroke-width="0.7"/>
<line x1="150.38" y1="278.7" x2="150.38" y2="282" stroke="#505050" stroke-width="0.7"/>
<line x1="157.91" y1="1" x2="157.91" y2="3.4" stroke="#7c7c7c" stroke-width="0.6"/>
<line x1="157.91" y1="139.6" x2="157.91" y2="143.4" stroke="#7c7c7c" stroke-width="0.6"/>
<line x1="157.91" y1="279.6" x2="157.91" y2="282" stroke="#7c7c7c" stroke-width="0.6"/>
<line x1="162.32" y1="1" x2="162.32" y2="3.4" stroke="#7c7c7c" stroke-width="0.6"/>
<line x1="162.32" y1="139.6" x2="162.32" y2="143.4" stroke="#7c7c7c" stroke-width="0.6"/>
<line x1="162.32" y1="279.6" x2="162.32" y2="282" stroke="#7c7c7c" stroke-width="0.6"/>
<line x1="165.44" y1="1" x2="165.44" y2="3.4" stroke="#7c7c7c" stroke-width="0.6"/>
<line x1="165.44" y1="139.6" x2="165.44" y2="143.4" stroke="#7c7c7c" stroke-width="0.6"/>
<line x1="165.44" y1="279.6" x2="165.44" y2="282" stroke="#7c7c7c" stroke-width="0.6"/>
<line x1="167.87" y1="1" x2="167.87" y2="3.4" stroke="#7c7c7c" stroke-width="0.6"/>
<line x1="167.87" y1="139.6" x2="167.87" y2="143.4" stroke="#7c7c7c" stroke-width="0.6"/>
<line x1="167.87" y1="279.6" x2="167.87" y2="282" stroke="#7c7c7c" stroke-width="0.6"/>
<line x1="169.85" y1="1" x2="169.85" y2="3.4" stroke="#7c7c7c" stroke-width="0.6"/>
<line x1="169.85" y1="139.6" x2="169.85" y2="143.4" stroke="#7c7c7c" stroke-width="0.6"/>
<line x1="169.85" y1="279.6" x2="169.85" y2="282" stroke="#7c7c7c" stroke-width="0.6"/>
<line x1="171.52" y1="1" x2="171.52" y2="3.4" stroke="#7c7c7c" stroke-width="0.6"/>
<line x1="171.52" y1="139.6" x2="171.52" y2="143.4" stroke="#7c7c7c" stroke-width="0.6"/>
<line x1="171.52" y1="279.6" x2="171.52" y2="282" stroke="#7c7c7c" stroke-width="0.6"/>
<line x1="172.98" y1="1" x2="172.98" y2="3.4" stroke="#7c7c7c" stroke-width="0.6"/>
<line x1="172.98" y1="139.6" x2="172.98" y2="143.4" stroke="#7c7c7c" stroke-width="0.6"/>
<line x1="172.98" y1="279.6" x2="172.98" y2="282" stroke="#7c7c7c" stroke-width="0.6"/>
<line x1="174.26" y1="1" x2="174.26" y2="3.4" stroke="#7c7c7c" stroke-width="0.6"/>
<line x1="174.26" y1="139.6" x2="174.26" y2="143.4" stroke="#7c7c7c" stroke-width="0.6"/>
<line x1="174.26" y1="279.6" x2="174.26" y2="282" stroke="#7c7c7c" stroke-width="0.6"/>
<line x1="175.4" y1="1" x2="175.4" y2="4.3" stroke="#505050" stroke-width="0.7"/>
<line x1="175.4" y1="138.7" x2="175.4" y2="144.3" stroke="#505050" stroke-width="0.7"/>
<line x1="175.4" y1="278.7" x2="175.4" y2="282" stroke="#505050" stroke-width="0.7"/>
<line x1="182.93" y1="1" x2="182.93" y2="3.4" stroke="#7c7c7c" stroke-width="0.6"/>
<line x1="182.93" y1="139.6" x2="182.93" y2="143.4" stroke="#7c7c7c" stroke-width="0.6"/>
<line x1="182.93" y1="279.6" x2="182.93" y2="282" stroke="#7c7c7c" stroke-width="0.6"/>
<line x1="187.34" y1="1" x2="187.34" y2="3.4" stroke="#7c7c7c" stroke-width="0.6"/>
<line x1="187.34" y1="139.6" x2="187.34" y2="143.4" stroke="#7c7c7c" stroke-width="0.6"/>
<line x1="187.34" y1="279.6" x2="187.34" y2="282" stroke="#7c7c7c" stroke-width="0.6"/>
<line x1="190.46" y1="1" x2="190.46" y2="3.4" stroke="#7c7c7c" stroke-width="0.6"/>
<line x1="190.46" y1="139.6" x2="190.46" y2="143.4" stroke="#7c7c7c" stroke-width="0.6"/>
<line x1="190.46" y1="279.6" x2="190.46" y2="282" stroke="#7c7c7c" stroke-width="0.6"/>
<line x1="192.89" y1="1" x2="192.89" y2="3.4" stroke="#7c7c7c" stroke-width="0.6"/>
<line x1="192.89" y1="139.6" x2="192.89" y2="143.4" stroke="#7c7c7c" stroke-width="0.6"/>
<line x1="192.89" y1="279.6" x2="192.89" y2="282" stroke="#7c7c7c" stroke-width="0.6"/>
<line x1="194.87" y1="1" x2="194.87" y2="3.4" stroke="#7c7c7c" stroke-width="0.6"/>
<line x1="194.87" y1="139.6" x2="194.87" y2="143.4" stroke="#7c7c7c" stroke-width="0.6"/>
<line x1="194.87" y1="279.6" x2="194.87" y2="282" stroke="#7c7c7c" stroke-width="0.6"/>
<line x1="196.54" y1="1" x2="196.54" y2="3.4" stroke="#7c7c7c" stroke-width="0.6"/>
<line x1="196.54" y1="139.6" x2="196.54" y2="143.4" stroke="#7c7c7c" stroke-width="0.6"/>
<line x1="196.54" y1="279.6" x2="196.54" y2="282" stroke="#7c7c7c" stroke-width="0.6"/>
<line x1="198" y1="1" x2="198" y2="3.4" stroke="#7c7c7c" stroke-width="0.6"/>
<line x1="198" y1="139.6" x2="198" y2="143.4" stroke="#7c7c7c" stroke-width="0.6"/>
<line x1="198" y1="279.6" x2="198" y2="282" stroke="#7c7c7c" stroke-width="0.6"/>
<line x1="199.28" y1="1" x2="199.28" y2="3.4" stroke="#7c7c7c" stroke-width="0.6"/>
<line x1="199.28" y1="139.6" x2="199.28" y2="143.4" stroke="#7c7c7c" stroke-width="0.6"/>
<line x1="199.28" y1="279.6" x2="199.28" y2="282" stroke="#7c7c7c" stroke-width="0.6"/>
<line x1="200.42" y1="1" x2="200.42" y2="4.3" stroke="#505050" stroke-width="0.7"/>
<line x1="200.42" y1="138.7" x2="200.42" y2="144.3" stroke="#505050" stroke-width="0.7"/>
<line x1="200.42" y1="278.7" x2="200.42" y2="282" stroke="#505050" stroke-width="0.7"/>
<line x1="207.95" y1="1" x2="207.95" y2="3.4" stroke="#7c7c7c" stroke-width="0.6"/>
<line x1="207.95" y1="139.6" x2="207.95" y2="143.4" stroke="#7c7c7c" stroke-width="0.6"/>
<line x1="207.95" y1="279.6" x2="207.95" y2="282" stroke="#7c7c7c" stroke-width="0.6"/>
<line x1="212.36" y1="1" x2="212.36" y2="3.4" stroke="#7c7c7c" stroke-width="0.6"/>
<line x1="212.36" y1="139.6" x2="212.36" y2="143.4" stroke="#7c7c7c" stroke-width="0.6"/>
<line x1="212.36" y1="279.6" x2="212.36" y2="282" stroke="#7c7c7c" stroke-width="0.6"/>
<line x1="215.48" y1="1" x2="215.48" y2="3.4" stroke="#7c7c7c" stroke-width="0.6"/>
<line x1="215.48" y1="139.6" x2="215.48" y2="143.4" stroke="#7c7c7c" stroke-width="0.6"/>
<line x1="215.48" y1="279.6" x2="215.48" y2="282" stroke="#7c7c7c" stroke-width="0.6"/>
<line x1="217.91" y1="1" x2="217.91" y2="3.4" stroke="#7c7c7c" stroke-width="0.6"/>
<line x1="217.91" y1="139.6" x2="217.91" y2="143.4" stroke="#7c7c7c" stroke-width="0.6"/>
<line x1="217.91" y1="279.6" x2="217.91" y2="282" stroke="#7c7c7c" stroke-width="0.6"/>
<line x1="219.89" y1="1" x2="219.89" y2="3.4" stroke="#7c7c7c" stroke-width="0.6"/>
<line x1="219.89" y1="139.6" x2="219.89" y2="143.4" stroke="#7c7c7c" stroke-width="0.6"/>
<line x1="219.89" y1="279.6" x2="219.89" y2="282" stroke="#7c7c7c" stroke-width="0.6"/>
<line x1="221.56" y1="1" x2="221.56" y2="3.4" stroke="#7c7c7c" stroke-width="0.6"/>
<line x1="221.56" y1="139.6" x2="221.56" y2="143.4" stroke="#7c7c7c" stroke-width="0.6"/>
<line x1="221.56" y1="279.6" x2="221.56" y2="282" stroke="#7c7c7c" stroke-width="0.6"/>
<line x1="223.02" y1="1" x2="223.02" y2="3.4" stroke="#7c7c7c" stroke-width="0.6"/>
<line x1="223.02" y1="139.6" x2="223.02" y2="143.4" stroke="#7c7c7c" stroke-width="0.6"/>
<line x1="223.02" y1="279.6" x2="223.02" y2="282" stroke="#7c7c7c" stroke-width="0.6"/>
<line x1="224.3" y1="1" x2="224.3" y2="3.4" stroke="#7c7c7c" stroke-width="0.6"/>
<line x1="224.3" y1="139.6" x2="224.3" y2="143.4" stroke="#7c7c7c" stroke-width="0.6"/>
<line x1="224.3" y1="279.6" x2="224.3" y2="282" stroke="#7c7c7c" stroke-width="0.6"/>
<line x1="225.44" y1="1" x2="225.44" y2="4.3" stroke="#505050" stroke-width="0.7"/>
<line x1="225.44" y1="138.7" x2="225.44" y2="144.3" stroke="#505050" stroke-width="0.7"/>
<line x1="225.44" y1="278.7" x2="225.44" y2="282" stroke="#505050" stroke-width="0.7"/>
<line x1="232.97" y1="1" x2="232.97" y2="3.4" stroke="#7c7c7c" stroke-width="0.6"/>
<line x1="232.97" y1="139.6" x2="232.97" y2="143.4" stroke="#7c7c7c" stroke-width="0.6"/>
<line x1="232.97" y1="279.6" x2="232.97" y2="282" stroke="#7c7c7c" stroke-width="0.6"/>
<line x1="237.38" y1="1" x2="237.38" y2="3.4" stroke="#7c7c7c" stroke-width="0.6"/>
<line x1="237.38" y1="139.6" x2="237.38" y2="143.4" stroke="#7c7c7c" stroke-width="0.6"/>
<line x1="237.38" y1="279.6" x2="237.38" y2="282" stroke="#7c7c7c" stroke-width="0.6"/>
<line x1="240.5" y1="1" x2="240.5" y2="3.4" stroke="#7c7c7c" stroke-width="0.6"/>
<line x1="240.5" y1="139.6" x2="240.5" y2="143.4" stroke="#7c7c7c" stroke-width="0.6"/>
<line x1="240.5" y1="279.6" x2="240.5" y2="282" stroke="#7c7c7c" stroke-width="0.6"/>
<line x1="242.93" y1="1" x2="242.93" y2="3.4" stroke="#7c7c7c" stroke-width="0.6"/>
<line x1="242.93" y1="139.6" x2="242.93" y2="143.4" stroke="#7c7c7c" stroke-width="0.6"/>
<line x1="242.93" y1="279.6" x2="242.93" y2="282" stroke="#7c7c7c" stroke-width="0.6"/>
<line x1="244.91" y1="1" x2="244.91" y2="3.4" stroke="#7c7c7c" stroke-width="0.6"/>
<line x1="244.91" y1="139.6" x2="244.91" y2="143.4" stroke="#7c7c7c" stroke-width="0.6"/>
<line x1="244.91" y1="279.6" x2="244.91" y2="282" stroke="#7c7c7c" stroke-width="0.6"/>
<line x1="246.58" y1="1" x2="246.58" y2="3.4" stroke="#7c7c7c" stroke-width="0.6"/>
<line x1="246.58" y1="139.6" x2="246.58" y2="143.4" stroke="#7c7c7c" stroke-width="0.6"/>
<line x1="246.58" y1="279.6" x2="246.58" y2="282" stroke="#7c7c7c" stroke-width="0.6"/>
<line x1="248.04" y1="1" x2="248.04" y2="3.4" stroke="#7c7c7c" stroke-width="0.6"/>
<line x1="248.04" y1="139.6" x2="248.04" y2="143.4" stroke="#7c7c7c" stroke-width="0.6"/>
<line x1="248.04" y1="279.6" x2="248.04" y2="282" stroke="#7c7c7c" stroke-width="0.6"/>
<line x1="249.32" y1="1" x2="249.32" y2="3.4" stroke="#7c7c7c" stroke-width="0.6"/>
<line x1="249.32" y1="139.6" x2="249.32" y2="143.4" stroke="#7c7c7c" stroke-width="0.6"/>
<line x1="249.32" y1="279.6" x2="249.32" y2="282" stroke="#7c7c7c" stroke-width="0.6"/>
<line x1="250.46" y1="1" x2="250.46" y2="4.3" stroke="#505050" stroke-width="0.7"/>
<line x1="250.46" y1="138.7" x2="250.46" y2="144.3" stroke="#505050" stroke-width="0.7"/>
<line x1="250.46" y1="278.7" x2="250.46" y2="282" stroke="#505050" stroke-width="0.7"/>
<line x1="257.99" y1="1" x2="257.99" y2="3.4" stroke="#7c7c7c" stroke-width="0.6"/>
<line x1="257.99" y1="139.6" x2="257.99" y2="143.4" stroke="#7c7c7c" stroke-width="0.6"/>
<line x1="257.99" y1="279.6" x2="257.99" y2="282" stroke="#7c7c7c" stroke-width="0.6"/>
<line x1="262.4" y1="1" x2="262.4" y2="3.4" stroke="#7c7c7c" stroke-width="0.6"/>
<line x1="262.4" y1="139.6" x2="262.4" y2="143.4" stroke="#7c7c7c" stroke-width="0.6"/>
<line x1="262.4" y1="279.6" x2="262.4" y2="282" stroke="#7c7c7c" stroke-width="0.6"/>
<line x1="265.52" y1="1" x2="265.52" y2="3.4" stroke="#7c7c7c" stroke-width="0.6"/>
<line x1="265.52" y1="139.6" x2="265.52" y2="143.4" stroke="#7c7c7c" stroke-width="0.6"/>
<line x1="265.52" y1="279.6" x2="265.52" y2="282" stroke="#7c7c7c" stroke-width="0.6"/>
<line x1="267.95" y1="1" x2="267.95" y2="3.4" stroke="#7c7c7c" stroke-width="0.6"/>
<line x1="267.95" y1="139.6" x2="267.95" y2="143.4" stroke="#7c7c7c" stroke-width="0.6"/>
<line x1="267.95" y1="279.6" x2="267.95" y2="282" stroke="#7c7c7c" stroke-width="0.6"/>
<line x1="269.93" y1="1" x2="269.93" y2="3.4" stroke="#7c7c7c" stroke-width="0.6"/>
<line x1="269.93" y1="139.6" x2="269.93" y2="143.4" stroke="#7c7c7c" stroke-width="0.6"/>
<line x1="269.93" y1="279.6" x2="269.93" y2="282" stroke="#7c7c7c" stroke-width="0.6"/>
<line x1="271.6" y1="1" x2="271.6" y2="3.4" stroke="#7c7c7c" stroke-width="0.6"/>
<line x1="271.6" y1="139.6" x2="271.6" y2="143.4" stroke="#7c7c7c" stroke-width="0.6"/>
<line x1="271.6" y1="279.6" x2="271.6" y2="282" stroke="#7c7c7c" stroke-width="0.6"/>
<line x1="273.06" y1="1" x2="273.06" y2="3.4" stroke="#7c7c7c" stroke-width="0.6"/>
<line x1="273.06" y1="139.6" x2="273.06" y2="143.4" stroke="#7c7c7c" stroke-width="0.6"/>
<line x1="273.06" y1="279.6" x2="273.06" y2="282" stroke="#7c7c7c" stroke-width="0.6"/>
<line x1="274.34" y1="1" x2="274.34" y2="3.4" stroke="#7c7c7c" stroke-width="0.6"/>
<line x1="274.34" y1="139.6" x2="274.34" y2="143.4" stroke="#7c7c7c" stroke-width="0.6"/>
<line x1="274.34" y1="279.6" x2="274.34" y2="282" stroke="#7c7c7c" stroke-width="0.6"/>
<line x1="275.48" y1="1" x2="275.48" y2="4.3" stroke="#505050" stroke-width="0.7"/>
<line x1="275.48" y1="138.7" x2="275.48" y2="144.3" stroke="#505050" stroke-width="0.7"/>
<line x1="275.48" y1="278.7" x2="275.48" y2="282" stroke="#505050" stroke-width="0.7"/>
<line x1="283.01" y1="1" x2="283.01" y2="3.4" stroke="#7c7c7c" stroke-width="0.6"/>
<line x1="283.01" y1="139.6" x2="283.01" y2="143.4" stroke="#7c7c7c" stroke-width="0.6"/>
<line x1="283.01" y1="279.6" x2="283.01" y2="282" stroke="#7c7c7c" stroke-width="0.6"/>
<line x1="287.42" y1="1" x2="287.42" y2="3.4" stroke="#7c7c7c" stroke-width="0.6"/>
<line x1="287.42" y1="139.6" x2="287.42" y2="143.4" stroke="#7c7c7c" stroke-width="0.6"/>
<line x1="287.42" y1="279.6" x2="287.42" y2="282" stroke="#7c7c7c" stroke-width="0.6"/>
<line x1="290.54" y1="1" x2="290.54" y2="3.4" stroke="#7c7c7c" stroke-width="0.6"/>
<line x1="290.54" y1="139.6" x2="290.54" y2="143.4" stroke="#7c7c7c" stroke-width="0.6"/>
<line x1="290.54" y1="279.6" x2="290.54" y2="282" stroke="#7c7c7c" stroke-width="0.6"/>
<line x1="292.97" y1="1" x2="292.97" y2="3.4" stroke="#7c7c7c" stroke-width="0.6"/>
<line x1="292.97" y1="139.6" x2="292.97" y2="143.4" stroke="#7c7c7c" stroke-width="0.6"/>
<line x1="292.97" y1="279.6" x2="292.97" y2="282" stroke="#7c7c7c" stroke-width="0.6"/>
<line x1="294.95" y1="1" x2="294.95" y2="3.4" stroke="#7c7c7c" stroke-width="0.6"/>
<line x1="294.95" y1="139.6" x2="294.95" y2="143.4" stroke="#7c7c7c" stroke-width="0.6"/>
<line x1="294.95" y1="279.6" x2="294.95" y2="282" stroke="#7c7c7c" stroke-width="0.6"/>
<line x1="296.62" y1="1" x2="296.62" y2="3.4" stroke="#7c7c7c" stroke-width="0.6"/>
<line x1="296.62" y1="139.6" x2="296.62" y2="143.4" stroke="#7c7c7c" stroke-width="0.6"/>
<line x1="296.62" y1="279.6" x2="296.62" y2="282" stroke="#7c7c7c" stroke-width="0.6"/>
<line x1="298.08" y1="1" x2="298.08" y2="3.4" stroke="#7c7c7c" stroke-width="0.6"/>
<line x1="298.08" y1="139.6" x2="298.08" y2="143.4" stroke="#7c7c7c" stroke-width="0.6"/>
<line x1="298.08" y1="279.6" x2="298.08" y2="282" stroke="#7c7c7c" stroke-width="0.6"/>
<line x1="299.36" y1="1" x2="299.36" y2="3.4" stroke="#7c7c7c" stroke-width="0.6"/>
<line x1="299.36" y1="139.6" x2="299.36" y2="143.4" stroke="#7c7c7c" stroke-width="0.6"/>
<line x1="299.36" y1="279.6" x2="299.36" y2="282" stroke="#7c7c7c" stroke-width="0.6"/>
<line x1="300.5" y1="1" x2="300.5" y2="4.3" stroke="#505050" stroke-width="0.7"/>
<line x1="300.5" y1="138.7" x2="300.5" y2="144.3" stroke="#505050" stroke-width="0.7"/>
<line x1="300.5" y1="278.7" x2="300.5" y2="282" stroke="#505050" stroke-width="0.7"/>
<line x1="308.03" y1="1" x2="308.03" y2="3.4" stroke="#7c7c7c" stroke-width="0.6"/>
<line x1="308.03" y1="139.6" x2="308.03" y2="143.4" stroke="#7c7c7c" stroke-width="0.6"/>
<line x1="308.03" y1="279.6" x2="308.03" y2="282" stroke="#7c7c7c" stroke-width="0.6"/>
<line x1="312.44" y1="1" x2="312.44" y2="3.4" stroke="#7c7c7c" stroke-width="0.6"/>
<line x1="312.44" y1="139.6" x2="312.44" y2="143.4" stroke="#7c7c7c" stroke-width="0.6"/>
<line x1="312.44" y1="279.6" x2="312.44" y2="282" stroke="#7c7c7c" stroke-width="0.6"/>
<line x1="315.56" y1="1" x2="315.56" y2="3.4" stroke="#7c7c7c" stroke-width="0.6"/>
<line x1="315.56" y1="139.6" x2="315.56" y2="143.4" stroke="#7c7c7c" stroke-width="0.6"/>
<line x1="315.56" y1="279.6" x2="315.56" y2="282" stroke="#7c7c7c" stroke-width="0.6"/>
<line x1="317.99" y1="1" x2="317.99" y2="3.4" stroke="#7c7c7c" stroke-width="0.6"/>
<line x1="317.99" y1="139.6" x2="317.99" y2="143.4" stroke="#7c7c7c" stroke-width="0.6"/>
<line x1="317.99" y1="279.6" x2="317.99" y2="282" stroke="#7c7c7c" stroke-width="0.6"/>
<line x1="319.97" y1="1" x2="319.97" y2="3.4" stroke="#7c7c7c" stroke-width="0.6"/>
<line x1="319.97" y1="139.6" x2="319.97" y2="143.4" stroke="#7c7c7c" stroke-width="0.6"/>
<line x1="319.97" y1="279.6" x2="319.97" y2="282" stroke="#7c7c7c" stroke-width="0.6"/>
<line x1="321.64" y1="1" x2="321.64" y2="3.4" stroke="#7c7c7c" stroke-width="0.6"/>
<line x1="321.64" y1="139.6" x2="321.64" y2="143.4" stroke="#7c7c7c" stroke-width="0.6"/>
<line x1="321.64" y1="279.6" x2="321.64" y2="282" stroke="#7c7c7c" stroke-width="0.6"/>
<line x1="323.1" y1="1" x2="323.1" y2="3.4" stroke="#7c7c7c" stroke-width="0.6"/>
<line x1="323.1" y1="139.6" x2="323.1" y2="143.4" stroke="#7c7c7c" stroke-width="0.6"/>
<line x1="323.1" y1="279.6" x2="323.1" y2="282" stroke="#7c7c7c" stroke-width="0.6"/>
<line x1="324.38" y1="1" x2="324.38" y2="3.4" stroke="#7c7c7c" stroke-width="0.6"/>
<line x1="324.38" y1="139.6" x2="324.38" y2="143.4" stroke="#7c7c7c" stroke-width="0.6"/>
<line x1="324.38" y1="279.6" x2="324.38" y2="282" stroke="#7c7c7c" stroke-width="0.6"/>
<line x1="50.5" y1="130.6" x2="53.7" y2="130.6" stroke="#505050" stroke-width="0.8"/>
<line x1="322.3" y1="130.6" x2="325.5" y2="130.6" stroke="#505050" stroke-width="0.8"/>
<line x1="50.5" y1="271.2" x2="53.7" y2="271.2" stroke="#505050" stroke-width="0.8"/>
<line x1="322.3" y1="271.2" x2="325.5" y2="271.2" stroke="#505050" stroke-width="0.8"/>
<line x1="50.5" y1="103.6" x2="53.7" y2="103.6" stroke="#505050" stroke-width="0.8"/>
<line x1="322.3" y1="103.6" x2="325.5" y2="103.6" stroke="#505050" stroke-width="0.8"/>
<line x1="50.5" y1="244.2" x2="53.7" y2="244.2" stroke="#505050" stroke-width="0.8"/>
<line x1="322.3" y1="244.2" x2="325.5" y2="244.2" stroke="#505050" stroke-width="0.8"/>
<line x1="50.5" y1="76.6" x2="53.7" y2="76.6" stroke="#505050" stroke-width="0.8"/>
<line x1="322.3" y1="76.6" x2="325.5" y2="76.6" stroke="#505050" stroke-width="0.8"/>
<line x1="50.5" y1="217.2" x2="53.7" y2="217.2" stroke="#505050" stroke-width="0.8"/>
<line x1="322.3" y1="217.2" x2="325.5" y2="217.2" stroke="#505050" stroke-width="0.8"/>
<line x1="50.5" y1="49.6" x2="53.7" y2="49.6" stroke="#505050" stroke-width="0.8"/>
<line x1="322.3" y1="49.6" x2="325.5" y2="49.6" stroke="#505050" stroke-width="0.8"/>
<line x1="50.5" y1="190.2" x2="53.7" y2="190.2" stroke="#505050" stroke-width="0.8"/>
<line x1="322.3" y1="190.2" x2="325.5" y2="190.2" stroke="#505050" stroke-width="0.8"/>
<line x1="50.5" y1="22.6" x2="53.7" y2="22.6" stroke="#505050" stroke-width="0.8"/>
<line x1="322.3" y1="22.6" x2="325.5" y2="22.6" stroke="#505050" stroke-width="0.8"/>
<line x1="50.5" y1="163.2" x2="53.7" y2="163.2" stroke="#505050" stroke-width="0.8"/>
<line x1="322.3" y1="163.2" x2="325.5" y2="163.2" stroke="#505050" stroke-width="0.8"/>
<text transform="translate(37.98,134.70) scale(1.073,1)" font-size="13.70">0</text>
<text transform="translate(37.98,275.30) scale(1.073,1)" font-size="13.70">0</text>
<text transform="translate(31.09,107.70) scale(1.046,1)" font-size="13.70">25</text>
<text transform="translate(31.09,248.30) scale(1.046,1)" font-size="13.70">25</text>
<text transform="translate(30.87,80.70) scale(1.054,1)" font-size="13.70">50</text>
<text transform="translate(30.87,221.30) scale(1.054,1)" font-size="13.70">50</text>
<text transform="translate(30.76,53.70) scale(1.059,1)" font-size="13.85">75</text>
<text transform="translate(30.76,194.30) scale(1.059,1)" font-size="13.85">75</text>
<text transform="translate(23.24,26.70) scale(1.075,1)" font-size="13.70">100</text>
<text transform="translate(23.24,167.30) scale(1.075,1)" font-size="13.70">100</text>
<text transform="translate(61.40,299.80) scale(1.016,1)" font-size="14.00">10</text>
<text transform="translate(76.15,294.93) scale(1.166,1)" font-size="9.83">−6</text>
<text transform="translate(111.44,299.80) scale(1.016,1)" font-size="14.00">10</text>
<text transform="translate(126.19,295.00) scale(1.125,1)" font-size="10.04">−4</text>
<text transform="translate(161.48,299.80) scale(1.016,1)" font-size="14.00">10</text>
<text transform="translate(176.21,295.00) scale(1.188,1)" font-size="9.94">−2</text>
<text transform="translate(215.47,299.80) scale(1.016,1)" font-size="14.00">10</text>
<text transform="translate(229.31,294.93) scale(1.068,1)" font-size="9.83">0</text>
<text transform="translate(265.51,299.80) scale(1.016,1)" font-size="14.00">10</text>
<text transform="translate(279.25,295.00) scale(1.132,1)" font-size="9.94">2</text>
<text transform="translate(315.55,299.80) scale(1.016,1)" font-size="14.00">10</text>
<text transform="translate(329.56,295.00) scale(0.965,1)" font-size="10.04">4</text>
<text transform="translate(173.11,318.78) scale(1.251,1)" font-size="16.62" font-style="italic">t</text>
<text transform="translate(184.37,319.17) scale(1.034,1)" font-size="16.56">(s)</text>
<text transform="translate(138.91,18.14) scale(0.996,1)" font-size="16.22">(a)</text>
<text transform="translate(162.95,17.90) scale(1.109,1)" font-size="14.76" font-style="italic">T</text>
<text transform="translate(175.99,18.97) scale(1.368,1)" font-size="14.80">=</text>
<text transform="translate(191.99,17.90) scale(0.989,1)" font-size="14.30">293</text>
<text transform="translate(217.16,18.00) scale(1.047,1)" font-size="14.77">K</text>
<text transform="translate(138.94,158.54) scale(0.943,1)" font-size="16.22">(b)</text>
<text transform="translate(162.95,158.30) scale(1.109,1)" font-size="14.76" font-style="italic">T</text>
<text transform="translate(175.99,159.37) scale(1.368,1)" font-size="14.80">=</text>
<text transform="translate(191.36,158.30) scale(1.015,1)" font-size="14.30">100</text>
<text transform="translate(217.16,158.40) scale(1.047,1)" font-size="14.77">K</text>
<text transform="translate(276.80,16.03) scale(0.973,1)" font-size="14.35">Mg:LN</text>
<line x1="227" y1="33.5" x2="269" y2="33.5" stroke="#30208c" stroke-width="1.6"/>
<text transform="translate(278.42,36.21) scale(1.091,1)" font-size="12.19">445 nm</text>
<line x1="227" y1="44.8" x2="269" y2="44.8" stroke="#1f8ca6" stroke-width="1.6"/>
<text transform="translate(278.42,47.51) scale(1.102,1)" font-size="12.06">488 nm</text>
<line x1="227" y1="56.1" x2="269" y2="56.1" stroke="#ee9448" stroke-width="1.6"/>
<text transform="translate(278.45,58.81) scale(1.101,1)" font-size="12.06">785 nm</text>
<line x1="227" y1="67.4" x2="269" y2="67.4" stroke="#fbc11c" stroke-width="1.6"/>
<text transform="translate(273.09,70.11) scale(1.071,1)" font-size="12.06">1310 nm</text>
<g transform="translate(0,0) rotate(-90)">
<text transform="translate(-102.09,14.29) scale(1.137,1)" font-size="15.04" font-style="italic">α</text>
<text transform="translate(-91.59,17.40) scale(0.842,1)" font-size="10.39">li</text>
<text transform="translate(-79.67,14.64) scale(0.881,1)" font-size="17.67">(</text>
<text transform="translate(-73.42,14.50) scale(1.051,1)" font-size="14.22">m</text>
<text transform="translate(-60.85,12.94) scale(0.646,1)" font-size="20.00">−</text>
<text transform="translate(-53.38,9.20) scale(1.033,1)" font-size="11.11">1</text>
<text transform="translate(-46.90,14.64) scale(0.951,1)" font-size="17.67">)</text>
</g>
<g transform="translate(0,140) rotate(-90)">
<text transform="translate(-102.09,14.29) scale(1.137,1)" font-size="15.04" font-style="italic">α</text>
<text transform="translate(-91.59,17.40) scale(0.842,1)" font-size="10.39">li</text>
<text transform="translate(-79.67,14.64) scale(0.881,1)" font-size="17.67">(</text>
<text transform="translate(-73.42,14.50) scale(1.051,1)" font-size="14.22">m</text>
<text transform="translate(-60.85,12.94) scale(0.646,1)" font-size="20.00">−</text>
<text transform="translate(-53.38,9.20) scale(1.033,1)" font-size="11.11">1</text>
<text transform="translate(-46.90,14.64) scale(0.951,1)" font-size="17.67">)</text>
</g>
</svg></div></body></html>
